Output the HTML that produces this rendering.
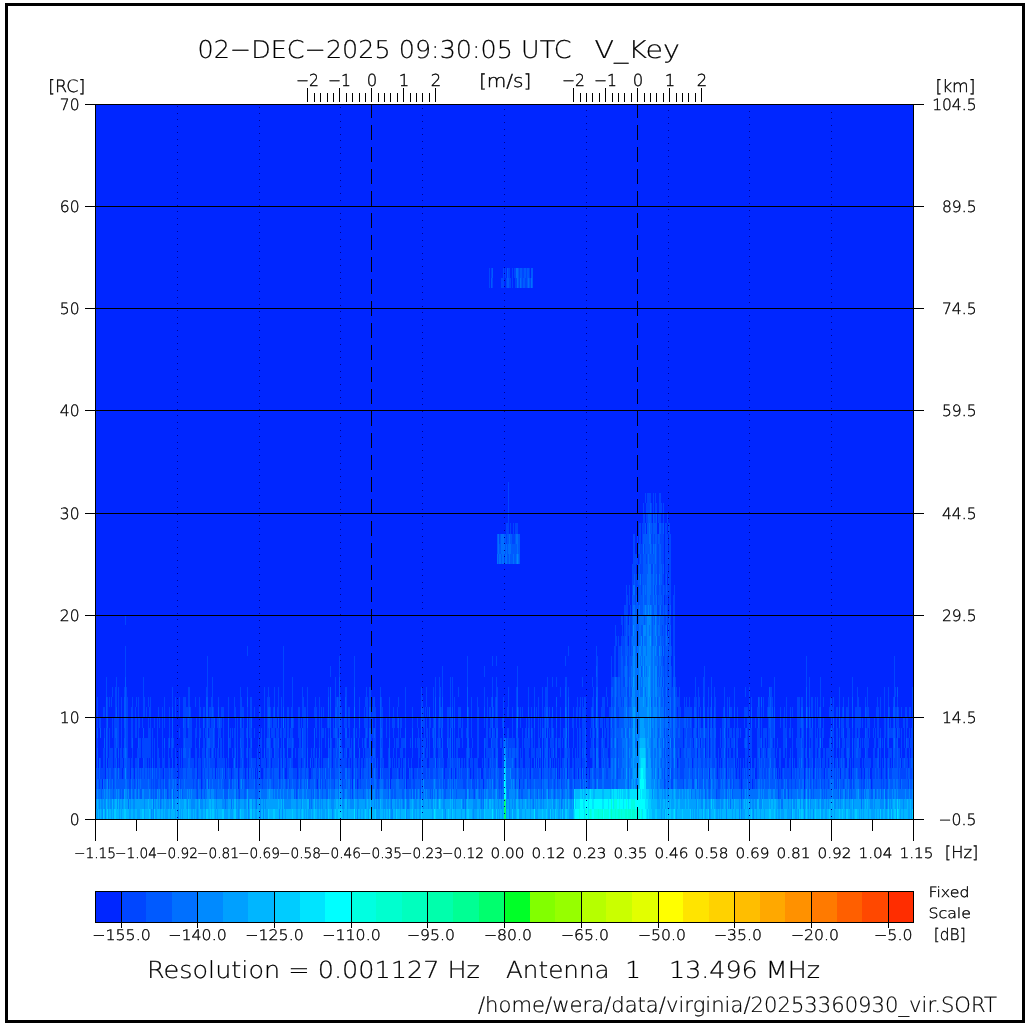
<!DOCTYPE html><html><head><meta charset="utf-8"><title>WERA spectrum</title><style>html,body{margin:0;padding:0;background:#fff;overflow:hidden}svg{display:block;will-change:transform}text{text-rendering:geometricPrecision;shape-rendering:auto}</style></head><body><svg width="1030" height="1025" viewBox="0 0 1030 1025" shape-rendering="crispEdges"><rect x="0" y="0" width="1030" height="1025" fill="#fff"/>
<rect x="6.5" y="4.5" width="1017" height="1017" fill="none" stroke="#000" stroke-width="3"/>
<defs><filter id="jb" x="0" y="0" width="1" height="1" color-interpolation-filters="sRGB"><feGaussianBlur stdDeviation="0.5 0"/></filter></defs>
<g filter="url(#jb)">
<rect x="95" y="104" width="818" height="715" fill="#0026ff"/>
<g transform="translate(0,104.5) scale(1,10.21429)"><path fill="#0046ff" d="M167 67h1v1h-1zM197 67h1v1h-1zM201 67h1v1h-1zM239 67h1v1h-1zM296 67h1v1h-1zM352 67h1v1h-1zM420 67h1v1h-1zM474 67h1v1h-1zM716 67h1v1h-1zM741 67h1v1h-1zM778 67h1v1h-1zM788 67h1v1h-1zM804 67h1v1h-1zM96 66h1v1h-1zM99 66h1v1h-1zM108 66h1v1h-1zM113 66h1v1h-1zM129 66h2v1h-2zM134 66h1v1h-1zM137 66h1v1h-1zM151 66h1v1h-1zM153 66h1v1h-1zM155 66h3v1h-3zM160 66h1v1h-1zM163 66h1v1h-1zM165 66h3v1h-3zM177 66h2v1h-2zM180 66h1v1h-1zM193 66h1v1h-1zM196 66h2v1h-2zM202 66h1v1h-1zM205 66h1v1h-1zM208 66h1v1h-1zM224 66h4v1h-4zM230 66h2v1h-2zM239 66h1v1h-1zM245 66h2v1h-2zM248 66h1v1h-1zM255 66h2v1h-2zM262 66h1v1h-1zM273 66h1v1h-1zM279 66h1v1h-1zM286 66h1v1h-1zM289 66h1v1h-1zM296 66h2v1h-2zM300 66h1v1h-1zM308 66h2v1h-2zM316 66h1v1h-1zM320 66h1v1h-1zM322 66h1v1h-1zM325 66h1v1h-1zM334 66h1v1h-1zM342 66h1v1h-1zM350 66h1v1h-1zM355 66h1v1h-1zM358 66h1v1h-1zM360 66h1v1h-1zM371 66h1v1h-1zM377 66h2v1h-2zM384 66h2v1h-2zM388 66h1v1h-1zM404 66h1v1h-1zM407 66h4v1h-4zM413 66h2v1h-2zM420 66h1v1h-1zM443 66h1v1h-1zM445 66h2v1h-2zM453 66h1v1h-1zM463 66h3v1h-3zM472 66h3v1h-3zM476 66h1v1h-1zM479 66h1v1h-1zM494 66h1v1h-1zM499 66h1v1h-1zM501 66h1v1h-1zM515 66h1v1h-1zM523 66h1v1h-1zM527 66h1v1h-1zM530 66h1v1h-1zM541 66h1v1h-1zM548 66h1v1h-1zM554 66h1v1h-1zM557 66h1v1h-1zM561 66h1v1h-1zM570 66h2v1h-2zM574 66h1v1h-1zM581 66h1v1h-1zM588 66h2v1h-2zM595 66h1v1h-1zM664 66h1v1h-1zM671 66h2v1h-2zM683 66h1v1h-1zM692 66h2v1h-2zM697 66h1v1h-1zM709 66h1v1h-1zM718 66h2v1h-2zM726 66h1v1h-1zM730 66h1v1h-1zM733 66h1v1h-1zM739 66h2v1h-2zM742 66h1v1h-1zM748 66h1v1h-1zM750 66h1v1h-1zM753 66h2v1h-2zM756 66h1v1h-1zM778 66h1v1h-1zM781 66h2v1h-2zM787 66h2v1h-2zM791 66h1v1h-1zM795 66h1v1h-1zM810 66h1v1h-1zM813 66h1v1h-1zM816 66h1v1h-1zM821 66h1v1h-1zM824 66h1v1h-1zM828 66h1v1h-1zM834 66h1v1h-1zM836 66h1v1h-1zM838 66h1v1h-1zM843 66h1v1h-1zM850 66h2v1h-2zM853 66h1v1h-1zM861 66h1v1h-1zM863 66h2v1h-2zM872 66h1v1h-1zM881 66h1v1h-1zM883 66h1v1h-1zM886 66h2v1h-2zM900 66h1v1h-1zM908 66h1v1h-1zM96 65h1v1h-1zM98 65h1v1h-1zM100 65h5v1h-5zM108 65h1v1h-1zM111 65h3v1h-3zM117 65h1v1h-1zM119 65h3v1h-3zM123 65h1v1h-1zM127 65h3v1h-3zM133 65h1v1h-1zM137 65h1v1h-1zM139 65h1v1h-1zM141 65h1v1h-1zM144 65h1v1h-1zM147 65h1v1h-1zM149 65h1v1h-1zM151 65h1v1h-1zM153 65h1v1h-1zM155 65h1v1h-1zM157 65h2v1h-2zM160 65h3v1h-3zM165 65h4v1h-4zM170 65h1v1h-1zM173 65h5v1h-5zM179 65h4v1h-4zM186 65h1v1h-1zM192 65h3v1h-3zM198 65h3v1h-3zM202 65h1v1h-1zM204 65h1v1h-1zM208 65h1v1h-1zM212 65h1v1h-1zM217 65h1v1h-1zM219 65h1v1h-1zM223 65h1v1h-1zM226 65h2v1h-2zM229 65h2v1h-2zM232 65h2v1h-2zM239 65h1v1h-1zM243 65h2v1h-2zM246 65h1v1h-1zM251 65h1v1h-1zM253 65h1v1h-1zM256 65h1v1h-1zM260 65h1v1h-1zM263 65h1v1h-1zM265 65h2v1h-2zM270 65h2v1h-2zM273 65h1v1h-1zM280 65h1v1h-1zM282 65h1v1h-1zM284 65h1v1h-1zM287 65h2v1h-2zM293 65h4v1h-4zM298 65h1v1h-1zM300 65h2v1h-2zM305 65h1v1h-1zM308 65h1v1h-1zM311 65h2v1h-2zM316 65h3v1h-3zM320 65h1v1h-1zM322 65h1v1h-1zM324 65h1v1h-1zM326 65h2v1h-2zM329 65h1v1h-1zM331 65h4v1h-4zM342 65h3v1h-3zM347 65h1v1h-1zM350 65h2v1h-2zM353 65h1v1h-1zM355 65h1v1h-1zM357 65h3v1h-3zM362 65h2v1h-2zM368 65h1v1h-1zM372 65h1v1h-1zM376 65h2v1h-2zM381 65h1v1h-1zM383 65h6v1h-6zM392 65h5v1h-5zM398 65h1v1h-1zM400 65h2v1h-2zM404 65h1v1h-1zM410 65h1v1h-1zM412 65h1v1h-1zM414 65h3v1h-3zM418 65h3v1h-3zM423 65h3v1h-3zM427 65h2v1h-2zM430 65h3v1h-3zM436 65h2v1h-2zM443 65h1v1h-1zM445 65h4v1h-4zM453 65h1v1h-1zM456 65h1v1h-1zM458 65h1v1h-1zM460 65h1v1h-1zM462 65h5v1h-5zM469 65h1v1h-1zM471 65h2v1h-2zM474 65h3v1h-3zM478 65h2v1h-2zM483 65h1v1h-1zM486 65h3v1h-3zM490 65h1v1h-1zM494 65h1v1h-1zM499 65h3v1h-3zM515 65h1v1h-1zM519 65h3v1h-3zM523 65h3v1h-3zM527 65h1v1h-1zM529 65h1v1h-1zM533 65h6v1h-6zM543 65h1v1h-1zM548 65h1v1h-1zM550 65h2v1h-2zM555 65h1v1h-1zM558 65h1v1h-1zM561 65h2v1h-2zM564 65h1v1h-1zM569 65h3v1h-3zM573 65h1v1h-1zM575 65h2v1h-2zM583 65h1v1h-1zM587 65h2v1h-2zM594 65h2v1h-2zM599 65h3v1h-3zM606 65h2v1h-2zM617 65h1v1h-1zM664 65h1v1h-1zM671 65h2v1h-2zM677 65h1v1h-1zM680 65h4v1h-4zM692 65h1v1h-1zM697 65h1v1h-1zM702 65h1v1h-1zM716 65h1v1h-1zM718 65h2v1h-2zM721 65h1v1h-1zM728 65h1v1h-1zM730 65h1v1h-1zM733 65h1v1h-1zM735 65h1v1h-1zM737 65h2v1h-2zM740 65h1v1h-1zM742 65h2v1h-2zM745 65h1v1h-1zM747 65h2v1h-2zM750 65h1v1h-1zM752 65h2v1h-2zM757 65h2v1h-2zM762 65h1v1h-1zM764 65h2v1h-2zM767 65h1v1h-1zM772 65h1v1h-1zM775 65h1v1h-1zM778 65h1v1h-1zM780 65h1v1h-1zM782 65h1v1h-1zM784 65h7v1h-7zM793 65h2v1h-2zM796 65h1v1h-1zM799 65h1v1h-1zM805 65h1v1h-1zM808 65h1v1h-1zM810 65h1v1h-1zM814 65h1v1h-1zM816 65h1v1h-1zM818 65h1v1h-1zM821 65h3v1h-3zM826 65h2v1h-2zM831 65h1v1h-1zM834 65h1v1h-1zM836 65h1v1h-1zM838 65h1v1h-1zM844 65h2v1h-2zM848 65h1v1h-1zM850 65h1v1h-1zM853 65h1v1h-1zM858 65h3v1h-3zM862 65h2v1h-2zM868 65h1v1h-1zM872 65h3v1h-3zM876 65h2v1h-2zM879 65h2v1h-2zM882 65h2v1h-2zM885 65h1v1h-1zM887 65h1v1h-1zM889 65h3v1h-3zM898 65h1v1h-1zM900 65h6v1h-6zM907 65h1v1h-1zM910 65h2v1h-2zM100 64h1v1h-1zM103 64h2v1h-2zM108 64h5v1h-5zM114 64h2v1h-2zM118 64h1v1h-1zM120 64h3v1h-3zM127 64h3v1h-3zM131 64h2v1h-2zM135 64h3v1h-3zM144 64h3v1h-3zM148 64h1v1h-1zM150 64h1v1h-1zM154 64h1v1h-1zM157 64h3v1h-3zM162 64h3v1h-3zM168 64h2v1h-2zM175 64h2v1h-2zM179 64h1v1h-1zM181 64h1v1h-1zM183 64h5v1h-5zM190 64h4v1h-4zM195 64h2v1h-2zM198 64h3v1h-3zM202 64h2v1h-2zM205 64h2v1h-2zM208 64h1v1h-1zM210 64h5v1h-5zM217 64h8v1h-8zM226 64h1v1h-1zM228 64h1v1h-1zM233 64h1v1h-1zM235 64h1v1h-1zM237 64h1v1h-1zM240 64h2v1h-2zM243 64h1v1h-1zM247 64h1v1h-1zM249 64h2v1h-2zM252 64h4v1h-4zM257 64h3v1h-3zM261 64h5v1h-5zM267 64h2v1h-2zM270 64h1v1h-1zM272 64h6v1h-6zM280 64h1v1h-1zM284 64h2v1h-2zM287 64h3v1h-3zM291 64h2v1h-2zM298 64h3v1h-3zM302 64h2v1h-2zM305 64h1v1h-1zM312 64h1v1h-1zM314 64h2v1h-2zM318 64h2v1h-2zM321 64h1v1h-1zM323 64h5v1h-5zM329 64h1v1h-1zM331 64h1v1h-1zM333 64h2v1h-2zM336 64h2v1h-2zM340 64h7v1h-7zM348 64h2v1h-2zM351 64h1v1h-1zM353 64h1v1h-1zM355 64h2v1h-2zM358 64h2v1h-2zM361 64h2v1h-2zM364 64h2v1h-2zM368 64h1v1h-1zM373 64h2v1h-2zM377 64h1v1h-1zM381 64h3v1h-3zM388 64h1v1h-1zM390 64h1v1h-1zM392 64h1v1h-1zM394 64h1v1h-1zM396 64h1v1h-1zM398 64h2v1h-2zM401 64h1v1h-1zM403 64h2v1h-2zM408 64h1v1h-1zM411 64h1v1h-1zM418 64h1v1h-1zM422 64h5v1h-5zM429 64h6v1h-6zM437 64h2v1h-2zM440 64h4v1h-4zM447 64h3v1h-3zM451 64h1v1h-1zM453 64h4v1h-4zM458 64h1v1h-1zM461 64h2v1h-2zM464 64h1v1h-1zM466 64h1v1h-1zM468 64h1v1h-1zM470 64h3v1h-3zM474 64h4v1h-4zM482 64h1v1h-1zM485 64h3v1h-3zM489 64h1v1h-1zM491 64h1v1h-1zM493 64h3v1h-3zM502 64h2v1h-2zM514 64h1v1h-1zM516 64h1v1h-1zM518 64h1v1h-1zM520 64h3v1h-3zM525 64h5v1h-5zM531 64h1v1h-1zM540 64h1v1h-1zM545 64h1v1h-1zM549 64h1v1h-1zM552 64h1v1h-1zM554 64h1v1h-1zM556 64h1v1h-1zM558 64h1v1h-1zM560 64h1v1h-1zM562 64h2v1h-2zM569 64h1v1h-1zM572 64h2v1h-2zM575 64h6v1h-6zM582 64h3v1h-3zM586 64h1v1h-1zM592 64h1v1h-1zM594 64h1v1h-1zM601 64h1v1h-1zM603 64h1v1h-1zM605 64h2v1h-2zM608 64h1v1h-1zM610 64h1v1h-1zM617 64h1v1h-1zM672 64h1v1h-1zM678 64h1v1h-1zM680 64h5v1h-5zM688 64h1v1h-1zM693 64h1v1h-1zM697 64h1v1h-1zM701 64h2v1h-2zM705 64h2v1h-2zM709 64h1v1h-1zM712 64h3v1h-3zM716 64h1v1h-1zM718 64h1v1h-1zM720 64h1v1h-1zM722 64h1v1h-1zM725 64h1v1h-1zM728 64h6v1h-6zM736 64h1v1h-1zM738 64h1v1h-1zM740 64h1v1h-1zM743 64h1v1h-1zM745 64h2v1h-2zM748 64h2v1h-2zM754 64h2v1h-2zM757 64h2v1h-2zM760 64h1v1h-1zM762 64h2v1h-2zM765 64h4v1h-4zM771 64h3v1h-3zM775 64h1v1h-1zM779 64h2v1h-2zM785 64h2v1h-2zM789 64h2v1h-2zM794 64h1v1h-1zM797 64h2v1h-2zM800 64h1v1h-1zM803 64h1v1h-1zM807 64h1v1h-1zM809 64h3v1h-3zM816 64h4v1h-4zM822 64h3v1h-3zM826 64h2v1h-2zM829 64h1v1h-1zM831 64h2v1h-2zM835 64h2v1h-2zM839 64h2v1h-2zM842 64h1v1h-1zM844 64h1v1h-1zM850 64h1v1h-1zM852 64h1v1h-1zM854 64h6v1h-6zM862 64h1v1h-1zM864 64h7v1h-7zM873 64h4v1h-4zM880 64h1v1h-1zM882 64h1v1h-1zM885 64h1v1h-1zM887 64h1v1h-1zM889 64h1v1h-1zM891 64h1v1h-1zM894 64h3v1h-3zM898 64h2v1h-2zM902 64h2v1h-2zM905 64h3v1h-3zM909 64h2v1h-2zM103 63h2v1h-2zM107 63h1v1h-1zM109 63h4v1h-4zM114 63h1v1h-1zM116 63h1v1h-1zM120 63h2v1h-2zM123 63h1v1h-1zM127 63h1v1h-1zM132 63h1v1h-1zM137 63h4v1h-4zM142 63h9v1h-9zM152 63h1v1h-1zM154 63h1v1h-1zM157 63h2v1h-2zM162 63h1v1h-1zM164 63h1v1h-1zM168 63h1v1h-1zM171 63h2v1h-2zM175 63h1v1h-1zM179 63h1v1h-1zM181 63h1v1h-1zM186 63h3v1h-3zM190 63h1v1h-1zM195 63h2v1h-2zM199 63h1v1h-1zM202 63h3v1h-3zM208 63h2v1h-2zM211 63h1v1h-1zM213 63h1v1h-1zM215 63h1v1h-1zM217 63h2v1h-2zM220 63h2v1h-2zM223 63h1v1h-1zM232 63h1v1h-1zM234 63h1v1h-1zM237 63h1v1h-1zM240 63h1v1h-1zM242 63h2v1h-2zM246 63h1v1h-1zM249 63h3v1h-3zM257 63h1v1h-1zM259 63h1v1h-1zM261 63h1v1h-1zM266 63h3v1h-3zM270 63h2v1h-2zM275 63h4v1h-4zM280 63h2v1h-2zM284 63h1v1h-1zM291 63h1v1h-1zM295 63h1v1h-1zM298 63h4v1h-4zM303 63h3v1h-3zM311 63h1v1h-1zM313 63h2v1h-2zM316 63h1v1h-1zM321 63h1v1h-1zM329 63h1v1h-1zM331 63h1v1h-1zM333 63h3v1h-3zM337 63h2v1h-2zM342 63h1v1h-1zM344 63h2v1h-2zM349 63h3v1h-3zM353 63h1v1h-1zM363 63h1v1h-1zM365 63h5v1h-5zM372 63h1v1h-1zM375 63h1v1h-1zM382 63h1v1h-1zM388 63h1v1h-1zM393 63h1v1h-1zM396 63h1v1h-1zM400 63h3v1h-3zM405 63h1v1h-1zM412 63h1v1h-1zM418 63h2v1h-2zM421 63h2v1h-2zM424 63h1v1h-1zM426 63h2v1h-2zM429 63h1v1h-1zM433 63h1v1h-1zM435 63h1v1h-1zM438 63h4v1h-4zM449 63h1v1h-1zM454 63h1v1h-1zM456 63h2v1h-2zM466 63h1v1h-1zM469 63h1v1h-1zM471 63h1v1h-1zM477 63h2v1h-2zM486 63h6v1h-6zM493 63h1v1h-1zM495 63h1v1h-1zM502 63h2v1h-2zM508 63h1v1h-1zM511 63h1v1h-1zM515 63h1v1h-1zM518 63h1v1h-1zM520 63h1v1h-1zM522 63h1v1h-1zM525 63h4v1h-4zM531 63h4v1h-4zM536 63h4v1h-4zM544 63h1v1h-1zM549 63h1v1h-1zM551 63h2v1h-2zM555 63h1v1h-1zM560 63h1v1h-1zM564 63h1v1h-1zM567 63h3v1h-3zM572 63h1v1h-1zM575 63h1v1h-1zM577 63h1v1h-1zM579 63h2v1h-2zM583 63h1v1h-1zM590 63h3v1h-3zM594 63h1v1h-1zM598 63h1v1h-1zM601 63h2v1h-2zM604 63h4v1h-4zM610 63h1v1h-1zM617 63h1v1h-1zM664 63h1v1h-1zM672 63h1v1h-1zM676 63h2v1h-2zM679 63h1v1h-1zM681 63h3v1h-3zM686 63h1v1h-1zM691 63h4v1h-4zM700 63h3v1h-3zM706 63h2v1h-2zM710 63h1v1h-1zM712 63h2v1h-2zM715 63h1v1h-1zM718 63h1v1h-1zM721 63h3v1h-3zM725 63h1v1h-1zM727 63h1v1h-1zM729 63h2v1h-2zM733 63h2v1h-2zM736 63h1v1h-1zM745 63h3v1h-3zM749 63h3v1h-3zM757 63h1v1h-1zM761 63h2v1h-2zM764 63h2v1h-2zM767 63h1v1h-1zM771 63h4v1h-4zM776 63h1v1h-1zM779 63h2v1h-2zM783 63h2v1h-2zM786 63h1v1h-1zM790 63h1v1h-1zM792 63h1v1h-1zM797 63h4v1h-4zM803 63h1v1h-1zM805 63h1v1h-1zM810 63h3v1h-3zM815 63h2v1h-2zM818 63h1v1h-1zM820 63h1v1h-1zM823 63h2v1h-2zM826 63h8v1h-8zM836 63h1v1h-1zM839 63h1v1h-1zM841 63h3v1h-3zM846 63h1v1h-1zM849 63h1v1h-1zM854 63h2v1h-2zM858 63h3v1h-3zM866 63h2v1h-2zM873 63h2v1h-2zM877 63h1v1h-1zM880 63h1v1h-1zM888 63h4v1h-4zM895 63h2v1h-2zM898 63h2v1h-2zM901 63h1v1h-1zM905 63h2v1h-2zM909 63h1v1h-1zM911 63h2v1h-2zM97 62h1v1h-1zM107 62h1v1h-1zM109 62h1v1h-1zM114 62h2v1h-2zM117 62h2v1h-2zM121 62h1v1h-1zM126 62h2v1h-2zM131 62h1v1h-1zM139 62h2v1h-2zM142 62h9v1h-9zM152 62h1v1h-1zM154 62h1v1h-1zM157 62h1v1h-1zM162 62h1v1h-1zM168 62h1v1h-1zM171 62h1v1h-1zM173 62h1v1h-1zM183 62h1v1h-1zM185 62h7v1h-7zM195 62h1v1h-1zM203 62h2v1h-2zM206 62h1v1h-1zM210 62h3v1h-3zM214 62h1v1h-1zM220 62h2v1h-2zM223 62h1v1h-1zM229 62h2v1h-2zM234 62h2v1h-2zM237 62h1v1h-1zM241 62h3v1h-3zM250 62h1v1h-1zM258 62h1v1h-1zM260 62h2v1h-2zM264 62h1v1h-1zM266 62h1v1h-1zM270 62h1v1h-1zM273 62h1v1h-1zM275 62h3v1h-3zM281 62h1v1h-1zM288 62h4v1h-4zM293 62h1v1h-1zM299 62h2v1h-2zM303 62h3v1h-3zM307 62h1v1h-1zM319 62h1v1h-1zM321 62h1v1h-1zM325 62h1v1h-1zM331 62h1v1h-1zM335 62h2v1h-2zM338 62h1v1h-1zM341 62h1v1h-1zM345 62h5v1h-5zM351 62h1v1h-1zM353 62h1v1h-1zM358 62h1v1h-1zM362 62h1v1h-1zM364 62h1v1h-1zM366 62h1v1h-1zM373 62h3v1h-3zM381 62h2v1h-2zM394 62h1v1h-1zM396 62h3v1h-3zM401 62h4v1h-4zM410 62h1v1h-1zM415 62h1v1h-1zM417 62h3v1h-3zM421 62h5v1h-5zM427 62h1v1h-1zM429 62h1v1h-1zM434 62h1v1h-1zM437 62h2v1h-2zM440 62h1v1h-1zM448 62h2v1h-2zM454 62h1v1h-1zM456 62h4v1h-4zM462 62h1v1h-1zM472 62h1v1h-1zM477 62h2v1h-2zM485 62h3v1h-3zM492 62h4v1h-4zM497 62h1v1h-1zM500 62h2v1h-2zM506 62h1v1h-1zM508 62h7v1h-7zM516 62h1v1h-1zM518 62h1v1h-1zM522 62h1v1h-1zM524 62h6v1h-6zM531 62h2v1h-2zM534 62h1v1h-1zM538 62h2v1h-2zM544 62h2v1h-2zM550 62h4v1h-4zM555 62h1v1h-1zM558 62h3v1h-3zM562 62h1v1h-1zM564 62h1v1h-1zM573 62h1v1h-1zM577 62h1v1h-1zM579 62h2v1h-2zM582 62h3v1h-3zM591 62h2v1h-2zM598 62h1v1h-1zM601 62h1v1h-1zM603 62h2v1h-2zM607 62h2v1h-2zM610 62h1v1h-1zM613 62h1v1h-1zM617 62h1v1h-1zM671 62h2v1h-2zM675 62h8v1h-8zM684 62h1v1h-1zM687 62h3v1h-3zM691 62h2v1h-2zM697 62h2v1h-2zM702 62h2v1h-2zM706 62h2v1h-2zM710 62h1v1h-1zM712 62h2v1h-2zM715 62h1v1h-1zM720 62h1v1h-1zM722 62h2v1h-2zM727 62h3v1h-3zM731 62h3v1h-3zM736 62h2v1h-2zM744 62h1v1h-1zM747 62h1v1h-1zM749 62h3v1h-3zM757 62h4v1h-4zM763 62h2v1h-2zM766 62h1v1h-1zM768 62h2v1h-2zM772 62h1v1h-1zM774 62h1v1h-1zM777 62h1v1h-1zM783 62h3v1h-3zM792 62h1v1h-1zM796 62h5v1h-5zM802 62h2v1h-2zM809 62h1v1h-1zM811 62h2v1h-2zM815 62h3v1h-3zM819 62h1v1h-1zM822 62h1v1h-1zM829 62h1v1h-1zM831 62h1v1h-1zM836 62h2v1h-2zM842 62h3v1h-3zM846 62h4v1h-4zM854 62h3v1h-3zM860 62h1v1h-1zM862 62h1v1h-1zM864 62h5v1h-5zM874 62h2v1h-2zM878 62h2v1h-2zM882 62h1v1h-1zM887 62h1v1h-1zM895 62h2v1h-2zM901 62h1v1h-1zM904 62h1v1h-1zM907 62h2v1h-2zM910 62h3v1h-3zM104 61h1v1h-1zM107 61h1v1h-1zM109 61h1v1h-1zM112 61h1v1h-1zM114 61h1v1h-1zM117 61h2v1h-2zM121 61h1v1h-1zM124 61h1v1h-1zM126 61h2v1h-2zM131 61h2v1h-2zM135 61h2v1h-2zM138 61h1v1h-1zM148 61h3v1h-3zM152 61h1v1h-1zM157 61h1v1h-1zM162 61h1v1h-1zM169 61h1v1h-1zM179 61h1v1h-1zM183 61h3v1h-3zM188 61h4v1h-4zM195 61h2v1h-2zM199 61h2v1h-2zM203 61h1v1h-1zM205 61h2v1h-2zM209 61h4v1h-4zM214 61h1v1h-1zM218 61h3v1h-3zM223 61h1v1h-1zM230 61h1v1h-1zM232 61h1v1h-1zM234 61h2v1h-2zM237 61h1v1h-1zM240 61h4v1h-4zM246 61h1v1h-1zM249 61h3v1h-3zM254 61h1v1h-1zM259 61h1v1h-1zM261 61h1v1h-1zM264 61h1v1h-1zM267 61h2v1h-2zM271 61h4v1h-4zM276 61h3v1h-3zM280 61h2v1h-2zM283 61h3v1h-3zM287 61h2v1h-2zM290 61h3v1h-3zM298 61h3v1h-3zM303 61h3v1h-3zM307 61h1v1h-1zM316 61h1v1h-1zM319 61h1v1h-1zM321 61h3v1h-3zM325 61h1v1h-1zM328 61h1v1h-1zM333 61h2v1h-2zM337 61h1v1h-1zM340 61h2v1h-2zM349 61h1v1h-1zM353 61h1v1h-1zM356 61h1v1h-1zM359 61h1v1h-1zM365 61h1v1h-1zM367 61h1v1h-1zM372 61h2v1h-2zM375 61h1v1h-1zM382 61h1v1h-1zM386 61h1v1h-1zM389 61h1v1h-1zM393 61h1v1h-1zM398 61h1v1h-1zM400 61h1v1h-1zM418 61h1v1h-1zM424 61h1v1h-1zM426 61h2v1h-2zM429 61h1v1h-1zM432 61h1v1h-1zM434 61h1v1h-1zM438 61h2v1h-2zM442 61h1v1h-1zM447 61h2v1h-2zM454 61h1v1h-1zM458 61h1v1h-1zM461 61h2v1h-2zM466 61h1v1h-1zM468 61h1v1h-1zM471 61h1v1h-1zM477 61h2v1h-2zM486 61h2v1h-2zM489 61h2v1h-2zM493 61h2v1h-2zM507 61h2v1h-2zM512 61h1v1h-1zM522 61h1v1h-1zM525 61h2v1h-2zM529 61h1v1h-1zM532 61h1v1h-1zM534 61h1v1h-1zM538 61h1v1h-1zM540 61h1v1h-1zM543 61h2v1h-2zM549 61h1v1h-1zM551 61h1v1h-1zM553 61h1v1h-1zM556 61h1v1h-1zM560 61h1v1h-1zM563 61h2v1h-2zM573 61h1v1h-1zM577 61h1v1h-1zM579 61h2v1h-2zM582 61h3v1h-3zM590 61h1v1h-1zM592 61h1v1h-1zM594 61h1v1h-1zM598 61h1v1h-1zM604 61h2v1h-2zM607 61h2v1h-2zM610 61h1v1h-1zM613 61h1v1h-1zM664 61h1v1h-1zM672 61h1v1h-1zM676 61h2v1h-2zM680 61h3v1h-3zM684 61h2v1h-2zM687 61h5v1h-5zM693 61h1v1h-1zM696 61h1v1h-1zM699 61h1v1h-1zM701 61h2v1h-2zM705 61h3v1h-3zM712 61h2v1h-2zM720 61h1v1h-1zM722 61h2v1h-2zM725 61h1v1h-1zM727 61h1v1h-1zM729 61h3v1h-3zM733 61h2v1h-2zM736 61h3v1h-3zM740 61h1v1h-1zM745 61h1v1h-1zM747 61h1v1h-1zM750 61h2v1h-2zM757 61h3v1h-3zM761 61h1v1h-1zM763 61h4v1h-4zM768 61h2v1h-2zM771 61h3v1h-3zM783 61h4v1h-4zM789 61h2v1h-2zM792 61h1v1h-1zM797 61h3v1h-3zM801 61h1v1h-1zM803 61h1v1h-1zM809 61h4v1h-4zM815 61h1v1h-1zM817 61h1v1h-1zM819 61h2v1h-2zM822 61h2v1h-2zM830 61h1v1h-1zM832 61h2v1h-2zM836 61h2v1h-2zM839 61h1v1h-1zM841 61h2v1h-2zM847 61h3v1h-3zM852 61h1v1h-1zM855 61h2v1h-2zM858 61h2v1h-2zM866 61h2v1h-2zM869 61h1v1h-1zM873 61h1v1h-1zM875 61h1v1h-1zM877 61h2v1h-2zM880 61h1v1h-1zM884 61h2v1h-2zM887 61h1v1h-1zM889 61h4v1h-4zM895 61h1v1h-1zM898 61h2v1h-2zM901 61h1v1h-1zM904 61h1v1h-1zM906 61h1v1h-1zM909 61h1v1h-1zM911 61h2v1h-2zM97 60h1v1h-1zM99 60h2v1h-2zM106 60h1v1h-1zM112 60h1v1h-1zM114 60h5v1h-5zM121 60h1v1h-1zM126 60h2v1h-2zM131 60h2v1h-2zM135 60h2v1h-2zM138 60h2v1h-2zM142 60h1v1h-1zM148 60h1v1h-1zM150 60h1v1h-1zM154 60h1v1h-1zM157 60h1v1h-1zM159 60h1v1h-1zM162 60h1v1h-1zM164 60h1v1h-1zM169 60h1v1h-1zM184 60h2v1h-2zM187 60h1v1h-1zM189 60h3v1h-3zM196 60h1v1h-1zM199 60h1v1h-1zM204 60h1v1h-1zM206 60h1v1h-1zM208 60h2v1h-2zM211 60h3v1h-3zM217 60h2v1h-2zM220 60h2v1h-2zM223 60h1v1h-1zM235 60h1v1h-1zM237 60h1v1h-1zM241 60h1v1h-1zM243 60h1v1h-1zM249 60h2v1h-2zM264 60h1v1h-1zM267 60h1v1h-1zM270 60h2v1h-2zM273 60h4v1h-4zM281 60h1v1h-1zM285 60h1v1h-1zM287 60h2v1h-2zM293 60h1v1h-1zM298 60h2v1h-2zM301 60h1v1h-1zM303 60h3v1h-3zM315 60h2v1h-2zM319 60h1v1h-1zM321 60h1v1h-1zM327 60h1v1h-1zM329 60h1v1h-1zM333 60h1v1h-1zM336 60h3v1h-3zM340 60h2v1h-2zM344 60h3v1h-3zM348 60h2v1h-2zM364 60h4v1h-4zM369 60h2v1h-2zM372 60h1v1h-1zM375 60h1v1h-1zM381 60h2v1h-2zM386 60h1v1h-1zM389 60h1v1h-1zM392 60h3v1h-3zM397 60h1v1h-1zM400 60h2v1h-2zM405 60h1v1h-1zM412 60h1v1h-1zM417 60h1v1h-1zM422 60h3v1h-3zM426 60h1v1h-1zM429 60h2v1h-2zM433 60h1v1h-1zM438 60h1v1h-1zM440 60h2v1h-2zM447 60h2v1h-2zM450 60h2v1h-2zM458 60h3v1h-3zM462 60h1v1h-1zM468 60h1v1h-1zM471 60h1v1h-1zM477 60h2v1h-2zM484 60h1v1h-1zM486 60h2v1h-2zM490 60h2v1h-2zM495 60h3v1h-3zM502 60h1v1h-1zM512 60h1v1h-1zM520 60h1v1h-1zM526 60h1v1h-1zM528 60h2v1h-2zM531 60h1v1h-1zM538 60h1v1h-1zM540 60h1v1h-1zM542 60h1v1h-1zM544 60h1v1h-1zM546 60h1v1h-1zM548 60h1v1h-1zM551 60h2v1h-2zM560 60h1v1h-1zM572 60h2v1h-2zM576 60h1v1h-1zM579 60h1v1h-1zM582 60h4v1h-4zM591 60h2v1h-2zM595 60h1v1h-1zM598 60h1v1h-1zM600 60h3v1h-3zM604 60h1v1h-1zM606 60h3v1h-3zM610 60h1v1h-1zM612 60h2v1h-2zM617 60h2v1h-2zM672 60h1v1h-1zM677 60h2v1h-2zM680 60h4v1h-4zM686 60h1v1h-1zM688 60h2v1h-2zM691 60h1v1h-1zM694 60h1v1h-1zM699 60h2v1h-2zM707 60h1v1h-1zM710 60h1v1h-1zM713 60h1v1h-1zM715 60h1v1h-1zM722 60h2v1h-2zM727 60h3v1h-3zM734 60h1v1h-1zM737 60h1v1h-1zM744 60h1v1h-1zM747 60h3v1h-3zM755 60h1v1h-1zM759 60h1v1h-1zM761 60h1v1h-1zM768 60h1v1h-1zM771 60h3v1h-3zM780 60h1v1h-1zM783 60h2v1h-2zM786 60h1v1h-1zM790 60h1v1h-1zM797 60h4v1h-4zM803 60h1v1h-1zM807 60h1v1h-1zM810 60h1v1h-1zM815 60h1v1h-1zM818 60h2v1h-2zM823 60h1v1h-1zM831 60h1v1h-1zM836 60h1v1h-1zM841 60h3v1h-3zM846 60h3v1h-3zM855 60h6v1h-6zM862 60h1v1h-1zM865 60h1v1h-1zM867 60h3v1h-3zM874 60h1v1h-1zM877 60h2v1h-2zM884 60h2v1h-2zM887 60h1v1h-1zM890 60h1v1h-1zM893 60h1v1h-1zM896 60h3v1h-3zM903 60h2v1h-2zM906 60h2v1h-2zM912 60h1v1h-1zM97 59h1v1h-1zM103 59h2v1h-2zM107 59h1v1h-1zM115 59h1v1h-1zM118 59h1v1h-1zM121 59h1v1h-1zM126 59h2v1h-2zM131 59h2v1h-2zM135 59h1v1h-1zM138 59h1v1h-1zM143 59h2v1h-2zM146 59h1v1h-1zM149 59h2v1h-2zM158 59h1v1h-1zM162 59h1v1h-1zM164 59h1v1h-1zM169 59h1v1h-1zM175 59h1v1h-1zM179 59h1v1h-1zM183 59h6v1h-6zM190 59h1v1h-1zM199 59h2v1h-2zM203 59h2v1h-2zM209 59h3v1h-3zM213 59h1v1h-1zM221 59h3v1h-3zM228 59h1v1h-1zM234 59h2v1h-2zM240 59h4v1h-4zM247 59h1v1h-1zM250 59h2v1h-2zM254 59h1v1h-1zM259 59h2v1h-2zM264 59h1v1h-1zM267 59h1v1h-1zM270 59h1v1h-1zM273 59h1v1h-1zM277 59h2v1h-2zM281 59h1v1h-1zM287 59h2v1h-2zM291 59h2v1h-2zM298 59h2v1h-2zM302 59h4v1h-4zM307 59h1v1h-1zM314 59h3v1h-3zM319 59h1v1h-1zM321 59h1v1h-1zM323 59h1v1h-1zM337 59h2v1h-2zM340 59h2v1h-2zM346 59h1v1h-1zM348 59h2v1h-2zM359 59h1v1h-1zM364 59h1v1h-1zM366 59h2v1h-2zM372 59h4v1h-4zM381 59h2v1h-2zM389 59h1v1h-1zM393 59h1v1h-1zM397 59h1v1h-1zM405 59h1v1h-1zM412 59h1v1h-1zM422 59h2v1h-2zM425 59h1v1h-1zM427 59h1v1h-1zM433 59h1v1h-1zM441 59h1v1h-1zM447 59h3v1h-3zM454 59h1v1h-1zM458 59h3v1h-3zM468 59h1v1h-1zM471 59h1v1h-1zM477 59h2v1h-2zM487 59h1v1h-1zM489 59h2v1h-2zM493 59h1v1h-1zM495 59h1v1h-1zM497 59h1v1h-1zM503 59h1v1h-1zM507 59h2v1h-2zM512 59h1v1h-1zM516 59h1v1h-1zM518 59h1v1h-1zM520 59h1v1h-1zM522 59h1v1h-1zM531 59h1v1h-1zM536 59h1v1h-1zM538 59h1v1h-1zM542 59h1v1h-1zM544 59h2v1h-2zM549 59h1v1h-1zM556 59h1v1h-1zM560 59h1v1h-1zM573 59h1v1h-1zM576 59h2v1h-2zM579 59h2v1h-2zM582 59h4v1h-4zM591 59h1v1h-1zM593 59h1v1h-1zM601 59h4v1h-4zM609 59h2v1h-2zM613 59h1v1h-1zM616 59h3v1h-3zM664 59h1v1h-1zM671 59h2v1h-2zM676 59h1v1h-1zM678 59h3v1h-3zM684 59h8v1h-8zM696 59h1v1h-1zM698 59h1v1h-1zM700 59h1v1h-1zM707 59h2v1h-2zM710 59h1v1h-1zM715 59h1v1h-1zM723 59h1v1h-1zM727 59h1v1h-1zM730 59h2v1h-2zM737 59h1v1h-1zM744 59h4v1h-4zM749 59h1v1h-1zM757 59h3v1h-3zM761 59h1v1h-1zM763 59h1v1h-1zM767 59h1v1h-1zM771 59h1v1h-1zM780 59h1v1h-1zM784 59h1v1h-1zM786 59h1v1h-1zM790 59h1v1h-1zM792 59h1v1h-1zM797 59h3v1h-3zM807 59h1v1h-1zM811 59h2v1h-2zM815 59h1v1h-1zM817 59h1v1h-1zM819 59h1v1h-1zM829 59h5v1h-5zM836 59h2v1h-2zM842 59h1v1h-1zM846 59h3v1h-3zM855 59h6v1h-6zM866 59h3v1h-3zM876 59h3v1h-3zM880 59h1v1h-1zM884 59h1v1h-1zM889 59h1v1h-1zM895 59h2v1h-2zM898 59h1v1h-1zM901 59h1v1h-1zM905 59h2v1h-2zM909 59h2v1h-2zM912 59h1v1h-1zM97 58h1v1h-1zM107 58h1v1h-1zM109 58h1v1h-1zM111 58h1v1h-1zM115 58h2v1h-2zM118 58h1v1h-1zM121 58h1v1h-1zM126 58h2v1h-2zM132 58h1v1h-1zM136 58h1v1h-1zM138 58h1v1h-1zM143 58h2v1h-2zM148 58h1v1h-1zM150 58h1v1h-1zM164 58h1v1h-1zM172 58h1v1h-1zM175 58h1v1h-1zM179 58h1v1h-1zM183 58h3v1h-3zM188 58h2v1h-2zM195 58h1v1h-1zM199 58h1v1h-1zM211 58h2v1h-2zM218 58h1v1h-1zM228 58h1v1h-1zM234 58h1v1h-1zM240 58h2v1h-2zM250 58h2v1h-2zM264 58h1v1h-1zM267 58h3v1h-3zM274 58h1v1h-1zM278 58h1v1h-1zM281 58h1v1h-1zM283 58h1v1h-1zM292 58h1v1h-1zM302 58h2v1h-2zM307 58h1v1h-1zM315 58h1v1h-1zM319 58h1v1h-1zM335 58h2v1h-2zM338 58h1v1h-1zM340 58h1v1h-1zM346 58h1v1h-1zM359 58h1v1h-1zM365 58h3v1h-3zM369 58h2v1h-2zM373 58h2v1h-2zM381 58h1v1h-1zM389 58h1v1h-1zM398 58h1v1h-1zM405 58h1v1h-1zM421 58h2v1h-2zM426 58h1v1h-1zM433 58h1v1h-1zM440 58h1v1h-1zM450 58h1v1h-1zM452 58h1v1h-1zM454 58h1v1h-1zM471 58h1v1h-1zM477 58h1v1h-1zM484 58h1v1h-1zM487 58h1v1h-1zM491 58h1v1h-1zM495 58h1v1h-1zM497 58h1v1h-1zM503 58h1v1h-1zM508 58h1v1h-1zM516 58h1v1h-1zM528 58h1v1h-1zM534 58h1v1h-1zM538 58h1v1h-1zM542 58h1v1h-1zM545 58h3v1h-3zM566 58h1v1h-1zM577 58h1v1h-1zM580 58h1v1h-1zM582 58h1v1h-1zM584 58h2v1h-2zM592 58h2v1h-2zM602 58h3v1h-3zM607 58h1v1h-1zM612 58h2v1h-2zM616 58h2v1h-2zM621 58h1v1h-1zM623 58h1v1h-1zM628 58h1v1h-1zM664 58h1v1h-1zM671 58h2v1h-2zM676 58h4v1h-4zM684 58h1v1h-1zM686 58h1v1h-1zM689 58h1v1h-1zM694 58h3v1h-3zM698 58h2v1h-2zM704 58h1v1h-1zM708 58h1v1h-1zM714 58h2v1h-2zM724 58h1v1h-1zM727 58h1v1h-1zM729 58h1v1h-1zM734 58h1v1h-1zM749 58h1v1h-1zM751 58h1v1h-1zM759 58h1v1h-1zM763 58h1v1h-1zM768 58h2v1h-2zM771 58h2v1h-2zM774 58h1v1h-1zM786 58h1v1h-1zM797 58h3v1h-3zM801 58h2v1h-2zM809 58h1v1h-1zM811 58h2v1h-2zM815 58h1v1h-1zM817 58h1v1h-1zM820 58h1v1h-1zM823 58h1v1h-1zM830 58h2v1h-2zM833 58h1v1h-1zM839 58h1v1h-1zM843 58h1v1h-1zM848 58h1v1h-1zM857 58h2v1h-2zM865 58h1v1h-1zM867 58h1v1h-1zM877 58h1v1h-1zM880 58h1v1h-1zM884 58h1v1h-1zM888 58h1v1h-1zM893 58h1v1h-1zM897 58h1v1h-1zM912 58h1v1h-1zM106 57h1v1h-1zM112 57h1v1h-1zM115 57h2v1h-2zM118 57h1v1h-1zM124 57h1v1h-1zM126 57h1v1h-1zM143 57h1v1h-1zM172 57h1v1h-1zM188 57h2v1h-2zM206 57h2v1h-2zM212 57h1v1h-1zM240 57h1v1h-1zM247 57h1v1h-1zM264 57h1v1h-1zM268 57h1v1h-1zM274 57h1v1h-1zM278 57h1v1h-1zM283 57h1v1h-1zM292 57h1v1h-1zM302 57h1v1h-1zM307 57h1v1h-1zM328 57h1v1h-1zM335 57h1v1h-1zM345 57h2v1h-2zM366 57h1v1h-1zM369 57h2v1h-2zM380 57h1v1h-1zM405 57h1v1h-1zM421 57h1v1h-1zM426 57h1v1h-1zM433 57h1v1h-1zM435 57h1v1h-1zM439 57h2v1h-2zM442 57h1v1h-1zM450 57h1v1h-1zM452 57h1v1h-1zM458 57h1v1h-1zM484 57h1v1h-1zM492 57h1v1h-1zM496 57h2v1h-2zM508 57h1v1h-1zM516 57h1v1h-1zM528 57h1v1h-1zM534 57h1v1h-1zM542 57h1v1h-1zM545 57h3v1h-3zM560 57h1v1h-1zM566 57h1v1h-1zM568 57h1v1h-1zM593 57h1v1h-1zM606 57h1v1h-1zM613 57h1v1h-1zM617 57h1v1h-1zM620 57h1v1h-1zM627 57h2v1h-2zM664 57h1v1h-1zM667 57h2v1h-2zM671 57h2v1h-2zM675 57h2v1h-2zM679 57h1v1h-1zM695 57h1v1h-1zM698 57h1v1h-1zM703 57h2v1h-2zM708 57h1v1h-1zM711 57h1v1h-1zM714 57h1v1h-1zM724 57h1v1h-1zM734 57h1v1h-1zM745 57h1v1h-1zM749 57h1v1h-1zM770 57h2v1h-2zM774 57h1v1h-1zM809 57h1v1h-1zM820 57h1v1h-1zM839 57h1v1h-1zM852 57h1v1h-1zM857 57h1v1h-1zM867 57h1v1h-1zM884 57h1v1h-1zM888 57h1v1h-1zM894 57h2v1h-2zM912 57h1v1h-1zM106 56h1v1h-1zM116 56h1v1h-1zM143 56h1v1h-1zM207 56h1v1h-1zM212 56h1v1h-1zM283 56h1v1h-1zM292 56h1v1h-1zM335 56h1v1h-1zM354 56h1v1h-1zM435 56h1v1h-1zM439 56h1v1h-1zM442 56h1v1h-1zM450 56h1v1h-1zM452 56h1v1h-1zM467 56h1v1h-1zM492 56h1v1h-1zM496 56h1v1h-1zM517 56h1v1h-1zM547 56h1v1h-1zM552 56h1v1h-1zM556 56h1v1h-1zM565 56h2v1h-2zM582 56h1v1h-1zM592 56h1v1h-1zM596 56h2v1h-2zM611 56h3v1h-3zM617 56h1v1h-1zM620 56h1v1h-1zM623 56h2v1h-2zM628 56h1v1h-1zM662 56h1v1h-1zM664 56h1v1h-1zM671 56h1v1h-1zM675 56h1v1h-1zM695 56h1v1h-1zM703 56h2v1h-2zM711 56h1v1h-1zM761 56h1v1h-1zM774 56h1v1h-1zM806 56h1v1h-1zM809 56h1v1h-1zM820 56h1v1h-1zM852 56h1v1h-1zM894 56h1v1h-1zM125 55h1v1h-1zM207 55h1v1h-1zM283 55h1v1h-1zM330 55h1v1h-1zM339 55h1v1h-1zM354 55h1v1h-1zM442 55h1v1h-1zM467 55h1v1h-1zM484 55h1v1h-1zM517 55h1v1h-1zM597 55h1v1h-1zM611 55h1v1h-1zM614 55h2v1h-2zM618 55h3v1h-3zM623 55h1v1h-1zM628 55h1v1h-1zM664 55h1v1h-1zM667 55h2v1h-2zM671 55h1v1h-1zM673 55h1v1h-1zM704 55h1v1h-1zM806 55h1v1h-1zM894 55h1v1h-1zM125 54h1v1h-1zM207 54h1v1h-1zM283 54h1v1h-1zM339 54h1v1h-1zM354 54h1v1h-1zM467 54h1v1h-1zM492 54h1v1h-1zM496 54h1v1h-1zM565 54h1v1h-1zM596 54h2v1h-2zM611 54h1v1h-1zM614 54h2v1h-2zM618 54h3v1h-3zM623 54h2v1h-2zM627 54h2v1h-2zM663 54h2v1h-2zM667 54h2v1h-2zM673 54h1v1h-1zM806 54h1v1h-1zM894 54h1v1h-1zM125 53h1v1h-1zM247 53h1v1h-1zM283 53h1v1h-1zM568 53h1v1h-1zM596 53h1v1h-1zM614 53h2v1h-2zM618 53h3v1h-3zM622 53h3v1h-3zM628 53h1v1h-1zM630 53h1v1h-1zM662 53h1v1h-1zM664 53h1v1h-1zM668 53h1v1h-1zM671 53h1v1h-1zM673 53h2v1h-2zM615 52h2v1h-2zM618 52h1v1h-1zM621 52h4v1h-4zM627 52h1v1h-1zM630 52h1v1h-1zM664 52h1v1h-1zM669 52h1v1h-1zM673 52h2v1h-2zM615 51h1v1h-1zM622 51h1v1h-1zM624 51h2v1h-2zM627 51h2v1h-2zM630 51h2v1h-2zM662 51h1v1h-1zM664 51h1v1h-1zM669 51h1v1h-1zM673 51h2v1h-2zM125 50h1v1h-1zM621 50h2v1h-2zM624 50h2v1h-2zM627 50h1v1h-1zM630 50h2v1h-2zM664 50h2v1h-2zM667 50h2v1h-2zM670 50h1v1h-1zM673 50h2v1h-2zM624 49h4v1h-4zM630 49h1v1h-1zM657 49h2v1h-2zM661 49h2v1h-2zM664 49h1v1h-1zM667 49h1v1h-1zM669 49h1v1h-1zM673 49h2v1h-2zM626 48h2v1h-2zM629 48h1v1h-1zM635 48h1v1h-1zM638 48h1v1h-1zM657 48h1v1h-1zM662 48h1v1h-1zM665 48h3v1h-3zM669 48h2v1h-2zM673 48h2v1h-2zM626 47h1v1h-1zM629 47h1v1h-1zM632 47h1v1h-1zM635 47h4v1h-4zM641 47h1v1h-1zM654 47h1v1h-1zM657 47h2v1h-2zM661 47h2v1h-2zM664 47h2v1h-2zM667 47h4v1h-4zM674 47h1v1h-1zM632 46h2v1h-2zM635 46h3v1h-3zM641 46h1v1h-1zM657 46h2v1h-2zM662 46h2v1h-2zM665 46h1v1h-1zM668 46h3v1h-3zM632 45h4v1h-4zM637 45h2v1h-2zM640 45h3v1h-3zM651 45h2v1h-2zM657 45h2v1h-2zM662 45h1v1h-1zM665 45h3v1h-3zM669 45h2v1h-2zM504 44h1v1h-1zM633 44h5v1h-5zM639 44h1v1h-1zM641 44h2v1h-2zM646 44h1v1h-1zM657 44h2v1h-2zM661 44h3v1h-3zM665 44h6v1h-6zM633 43h2v1h-2zM638 43h1v1h-1zM640 43h3v1h-3zM644 43h1v1h-1zM652 43h1v1h-1zM657 43h2v1h-2zM661 43h3v1h-3zM665 43h3v1h-3zM669 43h2v1h-2zM499 42h1v1h-1zM506 42h1v1h-1zM512 42h3v1h-3zM633 42h2v1h-2zM637 42h1v1h-1zM639 42h2v1h-2zM642 42h1v1h-1zM651 42h2v1h-2zM654 42h1v1h-1zM657 42h1v1h-1zM660 42h4v1h-4zM665 42h3v1h-3zM669 42h2v1h-2zM506 41h3v1h-3zM510 41h1v1h-1zM513 41h1v1h-1zM515 41h3v1h-3zM639 41h2v1h-2zM642 41h3v1h-3zM652 41h1v1h-1zM661 41h2v1h-2zM665 41h2v1h-2zM668 41h2v1h-2zM508 40h1v1h-1zM643 40h2v1h-2zM646 40h2v1h-2zM651 40h1v1h-1zM654 40h2v1h-2zM658 40h3v1h-3zM663 40h1v1h-1zM667 40h1v1h-1zM508 39h1v1h-1zM643 39h1v1h-1zM646 39h4v1h-4zM651 39h1v1h-1zM653 39h1v1h-1zM655 39h2v1h-2zM659 39h3v1h-3zM663 39h1v1h-1zM508 38h1v1h-1zM645 38h1v1h-1zM647 38h4v1h-4zM653 38h1v1h-1zM655 38h1v1h-1zM659 38h2v1h-2zM508 37h1v1h-1zM489 17h1v1h-1zM492 17h1v1h-1zM501 17h3v1h-3zM506 17h1v1h-1zM509 17h2v1h-2zM512 17h1v1h-1zM515 17h2v1h-2zM519 17h1v1h-1zM522 17h1v1h-1zM525 17h2v1h-2zM530 17h1v1h-1zM489 16h1v1h-1zM491 16h1v1h-1zM503 16h1v1h-1zM505 16h1v1h-1zM508 16h2v1h-2zM512 16h1v1h-1zM514 16h2v1h-2zM519 16h1v1h-1zM522 16h2v1h-2zM526 16h1v1h-1zM529 16h1v1h-1z"/><path fill="#005aff" d="M96 67h1v1h-1zM101 67h1v1h-1zM113 67h1v1h-1zM120 67h1v1h-1zM122 67h2v1h-2zM129 67h2v1h-2zM133 67h1v1h-1zM137 67h1v1h-1zM140 67h2v1h-2zM151 67h1v1h-1zM153 67h1v1h-1zM155 67h2v1h-2zM160 67h2v1h-2zM163 67h1v1h-1zM168 67h1v1h-1zM170 67h1v1h-1zM173 67h1v1h-1zM178 67h1v1h-1zM182 67h1v1h-1zM196 67h1v1h-1zM204 67h1v1h-1zM216 67h1v1h-1zM224 67h4v1h-4zM236 67h1v1h-1zM238 67h1v1h-1zM244 67h2v1h-2zM255 67h3v1h-3zM294 67h1v1h-1zM297 67h1v1h-1zM311 67h1v1h-1zM313 67h1v1h-1zM317 67h2v1h-2zM322 67h1v1h-1zM326 67h2v1h-2zM343 67h1v1h-1zM350 67h1v1h-1zM357 67h1v1h-1zM363 67h1v1h-1zM371 67h1v1h-1zM376 67h1v1h-1zM378 67h1v1h-1zM388 67h1v1h-1zM391 67h2v1h-2zM394 67h2v1h-2zM402 67h2v1h-2zM406 67h3v1h-3zM411 67h1v1h-1zM413 67h2v1h-2zM416 67h1v1h-1zM430 67h1v1h-1zM432 67h1v1h-1zM437 67h1v1h-1zM444 67h2v1h-2zM451 67h1v1h-1zM456 67h1v1h-1zM465 67h2v1h-2zM469 67h1v1h-1zM473 67h1v1h-1zM479 67h1v1h-1zM481 67h1v1h-1zM483 67h1v1h-1zM499 67h1v1h-1zM501 67h1v1h-1zM519 67h1v1h-1zM521 67h2v1h-2zM530 67h1v1h-1zM537 67h1v1h-1zM541 67h1v1h-1zM543 67h1v1h-1zM548 67h1v1h-1zM554 67h1v1h-1zM562 67h1v1h-1zM570 67h2v1h-2zM705 67h1v1h-1zM709 67h1v1h-1zM717 67h3v1h-3zM726 67h1v1h-1zM732 67h1v1h-1zM743 67h1v1h-1zM779 67h2v1h-2zM784 67h2v1h-2zM791 67h1v1h-1zM808 67h1v1h-1zM811 67h1v1h-1zM813 67h1v1h-1zM822 67h1v1h-1zM824 67h1v1h-1zM826 67h1v1h-1zM838 67h1v1h-1zM840 67h1v1h-1zM845 67h1v1h-1zM849 67h1v1h-1zM851 67h1v1h-1zM861 67h1v1h-1zM863 67h1v1h-1zM871 67h2v1h-2zM875 67h1v1h-1zM881 67h1v1h-1zM885 67h2v1h-2zM98 66h1v1h-1zM100 66h2v1h-2zM104 66h2v1h-2zM110 66h2v1h-2zM114 66h1v1h-1zM116 66h9v1h-9zM127 66h2v1h-2zM132 66h2v1h-2zM135 66h1v1h-1zM139 66h1v1h-1zM141 66h7v1h-7zM149 66h2v1h-2zM152 66h1v1h-1zM154 66h1v1h-1zM158 66h2v1h-2zM161 66h2v1h-2zM168 66h1v1h-1zM170 66h2v1h-2zM174 66h1v1h-1zM176 66h1v1h-1zM181 66h3v1h-3zM185 66h8v1h-8zM194 66h2v1h-2zM199 66h2v1h-2zM203 66h2v1h-2zM210 66h2v1h-2zM213 66h5v1h-5zM219 66h2v1h-2zM222 66h2v1h-2zM228 66h1v1h-1zM233 66h1v1h-1zM236 66h1v1h-1zM242 66h1v1h-1zM244 66h1v1h-1zM247 66h1v1h-1zM249 66h5v1h-5zM257 66h5v1h-5zM263 66h4v1h-4zM268 66h1v1h-1zM271 66h2v1h-2zM274 66h4v1h-4zM280 66h1v1h-1zM282 66h1v1h-1zM285 66h1v1h-1zM287 66h1v1h-1zM290 66h2v1h-2zM293 66h3v1h-3zM298 66h1v1h-1zM301 66h1v1h-1zM304 66h1v1h-1zM306 66h1v1h-1zM310 66h4v1h-4zM315 66h1v1h-1zM318 66h1v1h-1zM323 66h2v1h-2zM326 66h2v1h-2zM329 66h1v1h-1zM331 66h3v1h-3zM338 66h1v1h-1zM343 66h3v1h-3zM347 66h1v1h-1zM351 66h1v1h-1zM356 66h1v1h-1zM359 66h1v1h-1zM361 66h5v1h-5zM367 66h3v1h-3zM372 66h2v1h-2zM376 66h1v1h-1zM379 66h1v1h-1zM383 66h1v1h-1zM386 66h2v1h-2zM391 66h5v1h-5zM399 66h5v1h-5zM411 66h2v1h-2zM415 66h5v1h-5zM422 66h1v1h-1zM424 66h9v1h-9zM436 66h3v1h-3zM440 66h2v1h-2zM444 66h1v1h-1zM447 66h1v1h-1zM449 66h1v1h-1zM451 66h1v1h-1zM455 66h1v1h-1zM457 66h6v1h-6zM466 66h1v1h-1zM468 66h3v1h-3zM475 66h1v1h-1zM478 66h1v1h-1zM480 66h3v1h-3zM484 66h3v1h-3zM488 66h1v1h-1zM491 66h1v1h-1zM493 66h1v1h-1zM495 66h1v1h-1zM498 66h1v1h-1zM500 66h1v1h-1zM502 66h1v1h-1zM520 66h3v1h-3zM524 66h1v1h-1zM528 66h2v1h-2zM531 66h3v1h-3zM535 66h6v1h-6zM543 66h1v1h-1zM549 66h3v1h-3zM553 66h1v1h-1zM555 66h1v1h-1zM558 66h2v1h-2zM562 66h3v1h-3zM566 66h1v1h-1zM569 66h1v1h-1zM572 66h1v1h-1zM575 66h5v1h-5zM582 66h1v1h-1zM584 66h1v1h-1zM586 66h2v1h-2zM590 66h2v1h-2zM594 66h1v1h-1zM598 66h4v1h-4zM604 66h7v1h-7zM612 66h2v1h-2zM616 66h2v1h-2zM628 66h1v1h-1zM665 66h1v1h-1zM667 66h2v1h-2zM677 66h6v1h-6zM686 66h2v1h-2zM699 66h4v1h-4zM704 66h2v1h-2zM708 66h1v1h-1zM710 66h1v1h-1zM713 66h1v1h-1zM716 66h2v1h-2zM720 66h1v1h-1zM722 66h1v1h-1zM725 66h1v1h-1zM727 66h1v1h-1zM731 66h1v1h-1zM734 66h5v1h-5zM743 66h4v1h-4zM749 66h1v1h-1zM751 66h1v1h-1zM755 66h1v1h-1zM757 66h1v1h-1zM760 66h1v1h-1zM762 66h2v1h-2zM765 66h4v1h-4zM770 66h5v1h-5zM776 66h2v1h-2zM779 66h2v1h-2zM783 66h1v1h-1zM785 66h1v1h-1zM789 66h2v1h-2zM792 66h3v1h-3zM796 66h3v1h-3zM800 66h2v1h-2zM805 66h1v1h-1zM808 66h1v1h-1zM811 66h1v1h-1zM814 66h2v1h-2zM817 66h3v1h-3zM822 66h2v1h-2zM825 66h3v1h-3zM829 66h1v1h-1zM835 66h1v1h-1zM840 66h3v1h-3zM844 66h1v1h-1zM847 66h1v1h-1zM849 66h1v1h-1zM854 66h1v1h-1zM859 66h2v1h-2zM862 66h1v1h-1zM866 66h1v1h-1zM868 66h1v1h-1zM870 66h1v1h-1zM873 66h8v1h-8zM882 66h1v1h-1zM884 66h2v1h-2zM890 66h3v1h-3zM895 66h1v1h-1zM898 66h2v1h-2zM902 66h6v1h-6zM910 66h2v1h-2zM97 65h1v1h-1zM99 65h1v1h-1zM106 65h2v1h-2zM109 65h2v1h-2zM114 65h1v1h-1zM116 65h1v1h-1zM124 65h1v1h-1zM126 65h1v1h-1zM131 65h2v1h-2zM135 65h2v1h-2zM138 65h1v1h-1zM140 65h1v1h-1zM142 65h2v1h-2zM145 65h2v1h-2zM148 65h1v1h-1zM150 65h1v1h-1zM154 65h1v1h-1zM156 65h1v1h-1zM159 65h1v1h-1zM164 65h1v1h-1zM169 65h1v1h-1zM171 65h2v1h-2zM183 65h3v1h-3zM187 65h5v1h-5zM195 65h2v1h-2zM203 65h1v1h-1zM205 65h3v1h-3zM209 65h3v1h-3zM213 65h2v1h-2zM216 65h1v1h-1zM218 65h1v1h-1zM220 65h2v1h-2zM224 65h1v1h-1zM228 65h1v1h-1zM234 65h4v1h-4zM240 65h3v1h-3zM247 65h1v1h-1zM249 65h2v1h-2zM252 65h1v1h-1zM254 65h1v1h-1zM258 65h2v1h-2zM264 65h1v1h-1zM267 65h3v1h-3zM272 65h1v1h-1zM274 65h5v1h-5zM281 65h1v1h-1zM289 65h4v1h-4zM299 65h1v1h-1zM302 65h3v1h-3zM306 65h2v1h-2zM313 65h3v1h-3zM321 65h1v1h-1zM323 65h1v1h-1zM328 65h1v1h-1zM335 65h4v1h-4zM340 65h2v1h-2zM348 65h2v1h-2zM356 65h1v1h-1zM361 65h1v1h-1zM364 65h4v1h-4zM369 65h3v1h-3zM373 65h1v1h-1zM375 65h1v1h-1zM382 65h1v1h-1zM389 65h1v1h-1zM397 65h1v1h-1zM403 65h1v1h-1zM405 65h1v1h-1zM409 65h1v1h-1zM411 65h1v1h-1zM417 65h1v1h-1zM421 65h2v1h-2zM426 65h1v1h-1zM429 65h1v1h-1zM433 65h3v1h-3zM438 65h4v1h-4zM449 65h2v1h-2zM452 65h1v1h-1zM454 65h1v1h-1zM457 65h1v1h-1zM459 65h1v1h-1zM461 65h1v1h-1zM468 65h1v1h-1zM477 65h1v1h-1zM480 65h1v1h-1zM484 65h2v1h-2zM489 65h1v1h-1zM491 65h3v1h-3zM495 65h1v1h-1zM497 65h2v1h-2zM502 65h2v1h-2zM511 65h4v1h-4zM516 65h1v1h-1zM518 65h1v1h-1zM522 65h1v1h-1zM526 65h1v1h-1zM528 65h1v1h-1zM531 65h2v1h-2zM539 65h2v1h-2zM542 65h1v1h-1zM544 65h4v1h-4zM549 65h1v1h-1zM552 65h3v1h-3zM560 65h1v1h-1zM563 65h1v1h-1zM568 65h1v1h-1zM572 65h1v1h-1zM577 65h1v1h-1zM579 65h2v1h-2zM584 65h2v1h-2zM590 65h2v1h-2zM593 65h1v1h-1zM596 65h3v1h-3zM604 65h2v1h-2zM608 65h3v1h-3zM613 65h1v1h-1zM616 65h1v1h-1zM618 65h3v1h-3zM623 65h1v1h-1zM628 65h1v1h-1zM658 65h1v1h-1zM662 65h1v1h-1zM667 65h3v1h-3zM673 65h1v1h-1zM675 65h2v1h-2zM678 65h2v1h-2zM684 65h5v1h-5zM690 65h2v1h-2zM693 65h2v1h-2zM696 65h1v1h-1zM699 65h3v1h-3zM704 65h4v1h-4zM712 65h2v1h-2zM715 65h1v1h-1zM720 65h1v1h-1zM722 65h2v1h-2zM725 65h1v1h-1zM727 65h1v1h-1zM729 65h1v1h-1zM731 65h2v1h-2zM734 65h1v1h-1zM744 65h1v1h-1zM746 65h1v1h-1zM749 65h1v1h-1zM751 65h1v1h-1zM754 65h1v1h-1zM759 65h3v1h-3zM763 65h1v1h-1zM766 65h1v1h-1zM768 65h1v1h-1zM770 65h2v1h-2zM773 65h1v1h-1zM776 65h1v1h-1zM783 65h1v1h-1zM792 65h1v1h-1zM795 65h1v1h-1zM797 65h2v1h-2zM800 65h4v1h-4zM807 65h1v1h-1zM811 65h2v1h-2zM817 65h1v1h-1zM819 65h2v1h-2zM825 65h1v1h-1zM828 65h3v1h-3zM832 65h2v1h-2zM835 65h1v1h-1zM837 65h1v1h-1zM839 65h1v1h-1zM841 65h3v1h-3zM846 65h2v1h-2zM852 65h1v1h-1zM854 65h2v1h-2zM857 65h1v1h-1zM865 65h3v1h-3zM869 65h1v1h-1zM875 65h1v1h-1zM878 65h1v1h-1zM884 65h1v1h-1zM892 65h6v1h-6zM899 65h1v1h-1zM906 65h1v1h-1zM908 65h2v1h-2zM912 65h1v1h-1zM97 64h1v1h-1zM99 64h1v1h-1zM106 64h1v1h-1zM116 64h1v1h-1zM124 64h3v1h-3zM138 64h1v1h-1zM143 64h1v1h-1zM152 64h1v1h-1zM172 64h1v1h-1zM188 64h2v1h-2zM204 64h1v1h-1zM207 64h1v1h-1zM209 64h1v1h-1zM242 64h1v1h-1zM251 64h1v1h-1zM269 64h1v1h-1zM278 64h1v1h-1zM281 64h1v1h-1zM283 64h1v1h-1zM290 64h1v1h-1zM304 64h1v1h-1zM307 64h1v1h-1zM310 64h1v1h-1zM316 64h1v1h-1zM330 64h1v1h-1zM335 64h1v1h-1zM338 64h2v1h-2zM354 64h1v1h-1zM366 64h2v1h-2zM369 64h2v1h-2zM372 64h1v1h-1zM375 64h1v1h-1zM380 64h1v1h-1zM389 64h1v1h-1zM405 64h1v1h-1zM421 64h1v1h-1zM439 64h1v1h-1zM450 64h1v1h-1zM452 64h1v1h-1zM457 64h1v1h-1zM459 64h1v1h-1zM467 64h1v1h-1zM484 64h1v1h-1zM490 64h1v1h-1zM492 64h1v1h-1zM497 64h1v1h-1zM506 64h6v1h-6zM513 64h1v1h-1zM517 64h1v1h-1zM534 64h1v1h-1zM536 64h1v1h-1zM538 64h1v1h-1zM542 64h1v1h-1zM544 64h1v1h-1zM546 64h2v1h-2zM550 64h1v1h-1zM564 64h3v1h-3zM568 64h1v1h-1zM585 64h1v1h-1zM593 64h1v1h-1zM598 64h1v1h-1zM602 64h1v1h-1zM604 64h1v1h-1zM607 64h1v1h-1zM613 64h1v1h-1zM616 64h1v1h-1zM619 64h3v1h-3zM628 64h1v1h-1zM661 64h1v1h-1zM664 64h2v1h-2zM667 64h3v1h-3zM671 64h1v1h-1zM673 64h1v1h-1zM675 64h2v1h-2zM679 64h1v1h-1zM685 64h3v1h-3zM689 64h3v1h-3zM694 64h3v1h-3zM698 64h3v1h-3zM703 64h2v1h-2zM707 64h2v1h-2zM710 64h2v1h-2zM715 64h1v1h-1zM723 64h2v1h-2zM727 64h1v1h-1zM734 64h1v1h-1zM751 64h1v1h-1zM759 64h1v1h-1zM761 64h1v1h-1zM764 64h1v1h-1zM769 64h1v1h-1zM774 64h1v1h-1zM792 64h1v1h-1zM799 64h1v1h-1zM802 64h1v1h-1zM806 64h1v1h-1zM812 64h1v1h-1zM815 64h1v1h-1zM820 64h1v1h-1zM830 64h1v1h-1zM833 64h1v1h-1zM837 64h1v1h-1zM841 64h1v1h-1zM843 64h1v1h-1zM847 64h2v1h-2zM877 64h2v1h-2zM884 64h1v1h-1zM888 64h1v1h-1zM893 64h1v1h-1zM897 64h1v1h-1zM900 64h1v1h-1zM904 64h1v1h-1zM911 64h2v1h-2zM97 63h1v1h-1zM106 63h1v1h-1zM115 63h1v1h-1zM118 63h1v1h-1zM124 63h1v1h-1zM126 63h1v1h-1zM183 63h3v1h-3zM189 63h1v1h-1zM206 63h2v1h-2zM212 63h1v1h-1zM228 63h1v1h-1zM235 63h1v1h-1zM241 63h1v1h-1zM247 63h1v1h-1zM264 63h1v1h-1zM269 63h1v1h-1zM274 63h1v1h-1zM283 63h1v1h-1zM287 63h1v1h-1zM292 63h1v1h-1zM302 63h1v1h-1zM307 63h1v1h-1zM319 63h1v1h-1zM328 63h1v1h-1zM330 63h1v1h-1zM336 63h1v1h-1zM340 63h2v1h-2zM346 63h1v1h-1zM359 63h1v1h-1zM370 63h1v1h-1zM373 63h2v1h-2zM380 63h2v1h-2zM389 63h1v1h-1zM423 63h1v1h-1zM434 63h1v1h-1zM442 63h1v1h-1zM448 63h1v1h-1zM450 63h1v1h-1zM452 63h1v1h-1zM467 63h2v1h-2zM484 63h1v1h-1zM492 63h1v1h-1zM496 63h2v1h-2zM506 63h2v1h-2zM509 63h2v1h-2zM512 63h3v1h-3zM516 63h2v1h-2zM540 63h1v1h-1zM542 63h1v1h-1zM545 63h3v1h-3zM553 63h1v1h-1zM556 63h1v1h-1zM565 63h2v1h-2zM582 63h1v1h-1zM584 63h2v1h-2zM593 63h1v1h-1zM603 63h1v1h-1zM611 63h4v1h-4zM616 63h1v1h-1zM618 63h4v1h-4zM623 63h1v1h-1zM628 63h1v1h-1zM662 63h1v1h-1zM666 63h4v1h-4zM671 63h1v1h-1zM675 63h1v1h-1zM678 63h1v1h-1zM684 63h2v1h-2zM687 63h4v1h-4zM695 63h2v1h-2zM698 63h2v1h-2zM703 63h1v1h-1zM708 63h1v1h-1zM711 63h1v1h-1zM714 63h1v1h-1zM737 63h1v1h-1zM758 63h2v1h-2zM763 63h1v1h-1zM768 63h3v1h-3zM801 63h2v1h-2zM806 63h1v1h-1zM809 63h1v1h-1zM819 63h1v1h-1zM847 63h2v1h-2zM852 63h1v1h-1zM856 63h2v1h-2zM865 63h1v1h-1zM878 63h1v1h-1zM884 63h1v1h-1zM893 63h2v1h-2zM897 63h1v1h-1zM104 62h1v1h-1zM106 62h1v1h-1zM116 62h1v1h-1zM124 62h2v1h-2zM132 62h1v1h-1zM138 62h1v1h-1zM164 62h1v1h-1zM169 62h1v1h-1zM172 62h1v1h-1zM184 62h1v1h-1zM199 62h1v1h-1zM207 62h3v1h-3zM213 62h1v1h-1zM218 62h1v1h-1zM228 62h1v1h-1zM240 62h1v1h-1zM247 62h1v1h-1zM251 62h1v1h-1zM267 62h3v1h-3zM274 62h1v1h-1zM278 62h1v1h-1zM283 62h1v1h-1zM287 62h1v1h-1zM292 62h1v1h-1zM302 62h1v1h-1zM314 62h1v1h-1zM328 62h1v1h-1zM330 62h1v1h-1zM337 62h1v1h-1zM340 62h1v1h-1zM365 62h1v1h-1zM369 62h2v1h-2zM380 62h1v1h-1zM389 62h1v1h-1zM405 62h1v1h-1zM412 62h1v1h-1zM433 62h1v1h-1zM435 62h1v1h-1zM439 62h1v1h-1zM442 62h1v1h-1zM447 62h1v1h-1zM450 62h1v1h-1zM452 62h1v1h-1zM467 62h2v1h-2zM484 62h1v1h-1zM491 62h1v1h-1zM496 62h1v1h-1zM503 62h1v1h-1zM507 62h1v1h-1zM517 62h1v1h-1zM542 62h1v1h-1zM546 62h2v1h-2zM556 62h1v1h-1zM566 62h1v1h-1zM568 62h1v1h-1zM585 62h1v1h-1zM593 62h1v1h-1zM596 62h2v1h-2zM602 62h1v1h-1zM612 62h1v1h-1zM616 62h1v1h-1zM618 62h4v1h-4zM628 62h1v1h-1zM657 62h1v1h-1zM662 62h1v1h-1zM664 62h2v1h-2zM667 62h3v1h-3zM673 62h1v1h-1zM685 62h2v1h-2zM690 62h1v1h-1zM694 62h2v1h-2zM699 62h1v1h-1zM701 62h1v1h-1zM704 62h1v1h-1zM708 62h1v1h-1zM711 62h1v1h-1zM714 62h1v1h-1zM724 62h2v1h-2zM734 62h1v1h-1zM745 62h2v1h-2zM761 62h1v1h-1zM770 62h2v1h-2zM786 62h1v1h-1zM801 62h1v1h-1zM806 62h1v1h-1zM830 62h1v1h-1zM833 62h1v1h-1zM839 62h1v1h-1zM852 62h1v1h-1zM857 62h2v1h-2zM880 62h1v1h-1zM884 62h1v1h-1zM888 62h1v1h-1zM893 62h1v1h-1zM897 62h1v1h-1zM906 62h1v1h-1zM97 61h1v1h-1zM100 61h1v1h-1zM106 61h1v1h-1zM115 61h2v1h-2zM125 61h1v1h-1zM143 61h1v1h-1zM172 61h1v1h-1zM207 61h1v1h-1zM213 61h1v1h-1zM228 61h1v1h-1zM247 61h1v1h-1zM269 61h1v1h-1zM302 61h1v1h-1zM314 61h1v1h-1zM330 61h1v1h-1zM335 61h2v1h-2zM339 61h1v1h-1zM345 61h2v1h-2zM354 61h1v1h-1zM366 61h1v1h-1zM369 61h2v1h-2zM374 61h1v1h-1zM380 61h2v1h-2zM405 61h1v1h-1zM412 61h1v1h-1zM421 61h1v1h-1zM433 61h1v1h-1zM435 61h1v1h-1zM441 61h1v1h-1zM450 61h1v1h-1zM452 61h1v1h-1zM467 61h1v1h-1zM492 61h1v1h-1zM496 61h2v1h-2zM503 61h1v1h-1zM516 61h2v1h-2zM528 61h1v1h-1zM531 61h1v1h-1zM542 61h1v1h-1zM545 61h1v1h-1zM547 61h1v1h-1zM552 61h1v1h-1zM565 61h1v1h-1zM568 61h1v1h-1zM585 61h1v1h-1zM593 61h1v1h-1zM596 61h1v1h-1zM602 61h1v1h-1zM611 61h2v1h-2zM614 61h1v1h-1zM616 61h5v1h-5zM623 61h2v1h-2zM627 61h2v1h-2zM658 61h1v1h-1zM666 61h3v1h-3zM670 61h2v1h-2zM675 61h1v1h-1zM678 61h2v1h-2zM686 61h1v1h-1zM694 61h2v1h-2zM698 61h1v1h-1zM700 61h1v1h-1zM703 61h1v1h-1zM708 61h1v1h-1zM710 61h2v1h-2zM714 61h2v1h-2zM746 61h1v1h-1zM749 61h1v1h-1zM770 61h1v1h-1zM774 61h1v1h-1zM802 61h1v1h-1zM806 61h1v1h-1zM831 61h1v1h-1zM843 61h1v1h-1zM865 61h1v1h-1zM888 61h1v1h-1zM893 61h2v1h-2zM897 61h1v1h-1zM107 60h1v1h-1zM124 60h2v1h-2zM172 60h1v1h-1zM183 60h1v1h-1zM188 60h1v1h-1zM203 60h1v1h-1zM207 60h1v1h-1zM214 60h1v1h-1zM219 60h1v1h-1zM228 60h1v1h-1zM240 60h1v1h-1zM247 60h1v1h-1zM251 60h1v1h-1zM268 60h2v1h-2zM278 60h1v1h-1zM291 60h2v1h-2zM307 60h1v1h-1zM328 60h1v1h-1zM330 60h1v1h-1zM335 60h1v1h-1zM339 60h1v1h-1zM354 60h1v1h-1zM359 60h1v1h-1zM380 60h1v1h-1zM398 60h1v1h-1zM421 60h1v1h-1zM434 60h2v1h-2zM439 60h1v1h-1zM442 60h1v1h-1zM452 60h1v1h-1zM454 60h1v1h-1zM467 60h1v1h-1zM492 60h1v1h-1zM503 60h1v1h-1zM516 60h1v1h-1zM534 60h1v1h-1zM545 60h1v1h-1zM547 60h1v1h-1zM556 60h1v1h-1zM565 60h2v1h-2zM568 60h1v1h-1zM593 60h1v1h-1zM597 60h1v1h-1zM614 60h1v1h-1zM616 60h1v1h-1zM619 60h5v1h-5zM628 60h1v1h-1zM630 60h1v1h-1zM664 60h1v1h-1zM668 60h2v1h-2zM671 60h1v1h-1zM675 60h2v1h-2zM679 60h1v1h-1zM684 60h2v1h-2zM687 60h1v1h-1zM690 60h1v1h-1zM695 60h2v1h-2zM698 60h1v1h-1zM703 60h1v1h-1zM708 60h1v1h-1zM711 60h1v1h-1zM714 60h1v1h-1zM724 60h2v1h-2zM751 60h1v1h-1zM758 60h1v1h-1zM769 60h2v1h-2zM774 60h1v1h-1zM801 60h2v1h-2zM809 60h1v1h-1zM812 60h1v1h-1zM820 60h1v1h-1zM833 60h1v1h-1zM839 60h1v1h-1zM852 60h1v1h-1zM888 60h1v1h-1zM894 60h1v1h-1zM106 59h1v1h-1zM116 59h1v1h-1zM124 59h2v1h-2zM172 59h1v1h-1zM189 59h1v1h-1zM206 59h2v1h-2zM212 59h1v1h-1zM218 59h1v1h-1zM268 59h2v1h-2zM274 59h1v1h-1zM283 59h1v1h-1zM328 59h1v1h-1zM330 59h1v1h-1zM335 59h2v1h-2zM339 59h1v1h-1zM345 59h1v1h-1zM369 59h2v1h-2zM380 59h1v1h-1zM421 59h1v1h-1zM429 59h1v1h-1zM435 59h1v1h-1zM439 59h2v1h-2zM442 59h1v1h-1zM450 59h1v1h-1zM452 59h1v1h-1zM484 59h1v1h-1zM492 59h1v1h-1zM496 59h1v1h-1zM528 59h1v1h-1zM534 59h1v1h-1zM546 59h2v1h-2zM552 59h1v1h-1zM566 59h1v1h-1zM568 59h1v1h-1zM592 59h1v1h-1zM597 59h1v1h-1zM611 59h2v1h-2zM619 59h5v1h-5zM627 59h2v1h-2zM666 59h4v1h-4zM673 59h1v1h-1zM675 59h1v1h-1zM694 59h2v1h-2zM703 59h2v1h-2zM711 59h1v1h-1zM714 59h1v1h-1zM724 59h1v1h-1zM729 59h1v1h-1zM734 59h1v1h-1zM751 59h1v1h-1zM768 59h3v1h-3zM772 59h1v1h-1zM774 59h1v1h-1zM801 59h2v1h-2zM809 59h1v1h-1zM820 59h1v1h-1zM839 59h1v1h-1zM843 59h1v1h-1zM852 59h1v1h-1zM865 59h1v1h-1zM888 59h1v1h-1zM893 59h2v1h-2zM897 59h1v1h-1zM106 58h1v1h-1zM124 58h2v1h-2zM206 58h2v1h-2zM247 58h1v1h-1zM328 58h1v1h-1zM330 58h1v1h-1zM337 58h1v1h-1zM339 58h1v1h-1zM345 58h1v1h-1zM354 58h1v1h-1zM380 58h1v1h-1zM435 58h1v1h-1zM439 58h1v1h-1zM442 58h1v1h-1zM467 58h1v1h-1zM492 58h1v1h-1zM496 58h1v1h-1zM517 58h1v1h-1zM556 58h1v1h-1zM565 58h1v1h-1zM568 58h1v1h-1zM597 58h1v1h-1zM611 58h1v1h-1zM614 58h1v1h-1zM618 58h3v1h-3zM622 58h1v1h-1zM627 58h1v1h-1zM629 58h2v1h-2zM651 58h1v1h-1zM657 58h1v1h-1zM661 58h2v1h-2zM665 58h5v1h-5zM673 58h1v1h-1zM675 58h1v1h-1zM703 58h1v1h-1zM711 58h1v1h-1zM758 58h1v1h-1zM761 58h1v1h-1zM770 58h1v1h-1zM806 58h1v1h-1zM852 58h1v1h-1zM894 58h1v1h-1zM125 57h1v1h-1zM330 57h1v1h-1zM339 57h1v1h-1zM354 57h1v1h-1zM467 57h1v1h-1zM517 57h1v1h-1zM565 57h1v1h-1zM596 57h2v1h-2zM611 57h2v1h-2zM614 57h1v1h-1zM616 57h1v1h-1zM618 57h2v1h-2zM621 57h5v1h-5zM630 57h2v1h-2zM661 57h1v1h-1zM663 57h1v1h-1zM665 57h1v1h-1zM669 57h2v1h-2zM673 57h1v1h-1zM769 57h1v1h-1zM806 57h1v1h-1zM897 57h1v1h-1zM125 56h1v1h-1zM339 56h1v1h-1zM614 56h1v1h-1zM616 56h1v1h-1zM618 56h2v1h-2zM621 56h2v1h-2zM627 56h1v1h-1zM630 56h1v1h-1zM657 56h1v1h-1zM659 56h1v1h-1zM665 56h6v1h-6zM673 56h2v1h-2zM596 55h1v1h-1zM621 55h2v1h-2zM624 55h1v1h-1zM627 55h1v1h-1zM629 55h2v1h-2zM641 55h1v1h-1zM657 55h2v1h-2zM660 55h1v1h-1zM662 55h2v1h-2zM665 55h2v1h-2zM669 55h2v1h-2zM674 55h1v1h-1zM621 54h2v1h-2zM625 54h1v1h-1zM629 54h3v1h-3zM637 54h1v1h-1zM658 54h1v1h-1zM661 54h2v1h-2zM665 54h2v1h-2zM669 54h2v1h-2zM674 54h1v1h-1zM621 53h1v1h-1zM625 53h3v1h-3zM629 53h1v1h-1zM631 53h2v1h-2zM636 53h1v1h-1zM657 53h2v1h-2zM665 53h3v1h-3zM669 53h2v1h-2zM625 52h2v1h-2zM629 52h1v1h-1zM631 52h1v1h-1zM636 52h1v1h-1zM638 52h1v1h-1zM642 52h1v1h-1zM652 52h1v1h-1zM657 52h3v1h-3zM661 52h3v1h-3zM665 52h1v1h-1zM667 52h2v1h-2zM670 52h1v1h-1zM626 51h1v1h-1zM629 51h1v1h-1zM632 51h1v1h-1zM636 51h3v1h-3zM641 51h2v1h-2zM652 51h1v1h-1zM657 51h1v1h-1zM660 51h2v1h-2zM663 51h1v1h-1zM665 51h1v1h-1zM668 51h1v1h-1zM670 51h1v1h-1zM626 50h1v1h-1zM629 50h1v1h-1zM632 50h1v1h-1zM636 50h3v1h-3zM644 50h1v1h-1zM652 50h1v1h-1zM654 50h1v1h-1zM657 50h2v1h-2zM660 50h4v1h-4zM666 50h1v1h-1zM669 50h1v1h-1zM632 49h1v1h-1zM635 49h4v1h-4zM640 49h3v1h-3zM652 49h2v1h-2zM659 49h1v1h-1zM663 49h1v1h-1zM665 49h2v1h-2zM670 49h1v1h-1zM632 48h3v1h-3zM636 48h2v1h-2zM639 48h4v1h-4zM644 48h3v1h-3zM650 48h3v1h-3zM654 48h2v1h-2zM658 48h4v1h-4zM663 48h1v1h-1zM639 47h2v1h-2zM642 47h1v1h-1zM644 47h1v1h-1zM646 47h1v1h-1zM651 47h2v1h-2zM656 47h1v1h-1zM659 47h2v1h-2zM663 47h1v1h-1zM666 47h1v1h-1zM634 46h1v1h-1zM638 46h2v1h-2zM642 46h5v1h-5zM651 46h2v1h-2zM654 46h2v1h-2zM660 46h2v1h-2zM666 46h1v1h-1zM639 45h1v1h-1zM643 45h5v1h-5zM654 45h3v1h-3zM659 45h3v1h-3zM663 45h1v1h-1zM498 44h1v1h-1zM501 44h1v1h-1zM507 44h2v1h-2zM510 44h3v1h-3zM514 44h2v1h-2zM519 44h1v1h-1zM640 44h1v1h-1zM643 44h3v1h-3zM647 44h1v1h-1zM649 44h6v1h-6zM656 44h1v1h-1zM659 44h2v1h-2zM497 43h1v1h-1zM499 43h2v1h-2zM505 43h1v1h-1zM507 43h1v1h-1zM511 43h6v1h-6zM518 43h2v1h-2zM639 43h1v1h-1zM645 43h5v1h-5zM651 43h1v1h-1zM654 43h1v1h-1zM656 43h1v1h-1zM659 43h2v1h-2zM497 42h1v1h-1zM500 42h1v1h-1zM504 42h2v1h-2zM507 42h2v1h-2zM510 42h2v1h-2zM515 42h1v1h-1zM518 42h2v1h-2zM643 42h6v1h-6zM653 42h1v1h-1zM655 42h2v1h-2zM658 42h2v1h-2zM645 41h1v1h-1zM647 41h2v1h-2zM650 41h2v1h-2zM653 41h4v1h-4zM659 41h2v1h-2zM663 41h1v1h-1zM648 40h3v1h-3zM653 40h1v1h-1zM656 40h1v1h-1zM650 39h1v1h-1zM491 17h1v1h-1zM507 17h2v1h-2zM518 17h1v1h-1zM521 17h1v1h-1zM523 17h2v1h-2zM527 17h1v1h-1zM529 17h1v1h-1zM532 17h1v1h-1zM492 16h1v1h-1zM507 16h1v1h-1zM518 16h1v1h-1zM520 16h2v1h-2zM524 16h2v1h-2zM527 16h2v1h-2zM531 16h2v1h-2z"/><path fill="#0070ff" d="M128 68h1v1h-1zM153 68h1v1h-1zM160 68h1v1h-1zM225 68h1v1h-1zM231 68h1v1h-1zM248 68h1v1h-1zM256 68h1v1h-1zM309 68h1v1h-1zM311 68h1v1h-1zM391 68h1v1h-1zM403 68h1v1h-1zM407 68h2v1h-2zM463 68h1v1h-1zM465 68h1v1h-1zM481 68h1v1h-1zM483 68h1v1h-1zM533 68h1v1h-1zM561 68h1v1h-1zM730 68h1v1h-1zM741 68h1v1h-1zM781 68h2v1h-2zM861 68h1v1h-1zM886 68h1v1h-1zM98 67h3v1h-3zM102 67h2v1h-2zM105 67h1v1h-1zM108 67h1v1h-1zM110 67h3v1h-3zM114 67h2v1h-2zM117 67h1v1h-1zM119 67h1v1h-1zM121 67h1v1h-1zM127 67h1v1h-1zM132 67h1v1h-1zM134 67h1v1h-1zM136 67h1v1h-1zM139 67h1v1h-1zM144 67h5v1h-5zM150 67h1v1h-1zM152 67h1v1h-1zM154 67h1v1h-1zM158 67h1v1h-1zM162 67h1v1h-1zM165 67h2v1h-2zM169 67h1v1h-1zM171 67h1v1h-1zM174 67h4v1h-4zM180 67h1v1h-1zM183 67h4v1h-4zM188 67h1v1h-1zM190 67h1v1h-1zM192 67h4v1h-4zM198 67h3v1h-3zM202 67h2v1h-2zM205 67h2v1h-2zM210 67h1v1h-1zM214 67h2v1h-2zM217 67h6v1h-6zM229 67h5v1h-5zM237 67h1v1h-1zM240 67h4v1h-4zM246 67h1v1h-1zM248 67h7v1h-7zM258 67h2v1h-2zM261 67h6v1h-6zM273 67h1v1h-1zM275 67h2v1h-2zM278 67h2v1h-2zM281 67h2v1h-2zM284 67h3v1h-3zM288 67h3v1h-3zM295 67h1v1h-1zM299 67h3v1h-3zM304 67h2v1h-2zM307 67h4v1h-4zM312 67h1v1h-1zM315 67h2v1h-2zM320 67h2v1h-2zM323 67h3v1h-3zM329 67h1v1h-1zM331 67h4v1h-4zM338 67h1v1h-1zM342 67h1v1h-1zM344 67h1v1h-1zM347 67h3v1h-3zM351 67h1v1h-1zM353 67h1v1h-1zM355 67h2v1h-2zM358 67h5v1h-5zM364 67h2v1h-2zM368 67h1v1h-1zM372 67h1v1h-1zM375 67h1v1h-1zM377 67h1v1h-1zM379 67h1v1h-1zM383 67h5v1h-5zM390 67h1v1h-1zM393 67h1v1h-1zM396 67h6v1h-6zM404 67h1v1h-1zM409 67h2v1h-2zM417 67h1v1h-1zM419 67h1v1h-1zM422 67h2v1h-2zM425 67h1v1h-1zM427 67h3v1h-3zM431 67h1v1h-1zM434 67h1v1h-1zM438 67h1v1h-1zM441 67h1v1h-1zM443 67h1v1h-1zM446 67h4v1h-4zM453 67h3v1h-3zM457 67h8v1h-8zM470 67h3v1h-3zM475 67h1v1h-1zM478 67h1v1h-1zM480 67h1v1h-1zM482 67h1v1h-1zM485 67h1v1h-1zM488 67h4v1h-4zM493 67h2v1h-2zM497 67h2v1h-2zM500 67h1v1h-1zM502 67h2v1h-2zM507 67h2v1h-2zM515 67h1v1h-1zM518 67h1v1h-1zM520 67h1v1h-1zM523 67h5v1h-5zM531 67h3v1h-3zM535 67h2v1h-2zM539 67h2v1h-2zM544 67h2v1h-2zM549 67h2v1h-2zM553 67h1v1h-1zM555 67h1v1h-1zM557 67h3v1h-3zM561 67h1v1h-1zM563 67h2v1h-2zM567 67h1v1h-1zM569 67h1v1h-1zM572 67h2v1h-2zM691 67h1v1h-1zM695 67h1v1h-1zM699 67h1v1h-1zM701 67h2v1h-2zM706 67h1v1h-1zM708 67h1v1h-1zM710 67h1v1h-1zM712 67h4v1h-4zM720 67h4v1h-4zM725 67h1v1h-1zM728 67h1v1h-1zM730 67h1v1h-1zM733 67h8v1h-8zM742 67h1v1h-1zM744 67h1v1h-1zM746 67h1v1h-1zM748 67h10v1h-10zM760 67h1v1h-1zM762 67h1v1h-1zM764 67h4v1h-4zM771 67h2v1h-2zM775 67h3v1h-3zM781 67h2v1h-2zM787 67h1v1h-1zM789 67h2v1h-2zM792 67h5v1h-5zM798 67h3v1h-3zM803 67h1v1h-1zM805 67h1v1h-1zM807 67h1v1h-1zM810 67h1v1h-1zM812 67h1v1h-1zM814 67h6v1h-6zM821 67h1v1h-1zM823 67h1v1h-1zM825 67h1v1h-1zM827 67h5v1h-5zM833 67h5v1h-5zM841 67h2v1h-2zM846 67h2v1h-2zM850 67h1v1h-1zM852 67h4v1h-4zM859 67h2v1h-2zM862 67h1v1h-1zM865 67h1v1h-1zM869 67h2v1h-2zM876 67h1v1h-1zM878 67h2v1h-2zM882 67h2v1h-2zM887 67h1v1h-1zM889 67h3v1h-3zM893 67h1v1h-1zM896 67h1v1h-1zM898 67h7v1h-7zM906 67h3v1h-3zM910 67h2v1h-2zM97 66h1v1h-1zM103 66h1v1h-1zM106 66h1v1h-1zM109 66h1v1h-1zM112 66h1v1h-1zM115 66h1v1h-1zM125 66h2v1h-2zM131 66h1v1h-1zM136 66h1v1h-1zM138 66h1v1h-1zM140 66h1v1h-1zM148 66h1v1h-1zM164 66h1v1h-1zM169 66h1v1h-1zM172 66h2v1h-2zM175 66h1v1h-1zM179 66h1v1h-1zM184 66h1v1h-1zM198 66h1v1h-1zM206 66h1v1h-1zM209 66h1v1h-1zM212 66h1v1h-1zM218 66h1v1h-1zM221 66h1v1h-1zM229 66h1v1h-1zM232 66h1v1h-1zM234 66h2v1h-2zM237 66h1v1h-1zM240 66h1v1h-1zM243 66h1v1h-1zM254 66h1v1h-1zM267 66h1v1h-1zM269 66h2v1h-2zM278 66h1v1h-1zM281 66h1v1h-1zM283 66h2v1h-2zM288 66h1v1h-1zM292 66h1v1h-1zM299 66h1v1h-1zM302 66h2v1h-2zM305 66h1v1h-1zM314 66h1v1h-1zM319 66h1v1h-1zM321 66h1v1h-1zM328 66h1v1h-1zM330 66h1v1h-1zM335 66h3v1h-3zM340 66h2v1h-2zM346 66h1v1h-1zM348 66h2v1h-2zM353 66h1v1h-1zM366 66h1v1h-1zM370 66h1v1h-1zM374 66h2v1h-2zM380 66h3v1h-3zM389 66h1v1h-1zM396 66h3v1h-3zM405 66h1v1h-1zM421 66h1v1h-1zM433 66h1v1h-1zM435 66h1v1h-1zM439 66h1v1h-1zM442 66h1v1h-1zM448 66h1v1h-1zM450 66h1v1h-1zM452 66h1v1h-1zM454 66h1v1h-1zM456 66h1v1h-1zM467 66h1v1h-1zM471 66h1v1h-1zM477 66h1v1h-1zM487 66h1v1h-1zM489 66h2v1h-2zM496 66h2v1h-2zM503 66h1v1h-1zM506 66h5v1h-5zM512 66h1v1h-1zM514 66h1v1h-1zM516 66h3v1h-3zM525 66h2v1h-2zM534 66h1v1h-1zM542 66h1v1h-1zM544 66h4v1h-4zM552 66h1v1h-1zM556 66h1v1h-1zM560 66h1v1h-1zM565 66h1v1h-1zM567 66h1v1h-1zM573 66h1v1h-1zM580 66h1v1h-1zM583 66h1v1h-1zM585 66h1v1h-1zM592 66h2v1h-2zM596 66h1v1h-1zM602 66h2v1h-2zM611 66h1v1h-1zM614 66h2v1h-2zM618 66h7v1h-7zM627 66h1v1h-1zM630 66h1v1h-1zM636 66h1v1h-1zM657 66h1v1h-1zM660 66h4v1h-4zM666 66h1v1h-1zM669 66h2v1h-2zM673 66h1v1h-1zM675 66h2v1h-2zM684 66h2v1h-2zM688 66h4v1h-4zM694 66h1v1h-1zM698 66h1v1h-1zM706 66h2v1h-2zM712 66h1v1h-1zM714 66h2v1h-2zM721 66h1v1h-1zM723 66h2v1h-2zM728 66h2v1h-2zM732 66h1v1h-1zM747 66h1v1h-1zM758 66h2v1h-2zM761 66h1v1h-1zM764 66h1v1h-1zM769 66h1v1h-1zM775 66h1v1h-1zM784 66h1v1h-1zM786 66h1v1h-1zM799 66h1v1h-1zM802 66h2v1h-2zM806 66h2v1h-2zM809 66h1v1h-1zM812 66h1v1h-1zM820 66h1v1h-1zM830 66h4v1h-4zM837 66h1v1h-1zM839 66h1v1h-1zM845 66h2v1h-2zM848 66h1v1h-1zM852 66h1v1h-1zM855 66h4v1h-4zM865 66h1v1h-1zM867 66h1v1h-1zM869 66h1v1h-1zM888 66h2v1h-2zM893 66h2v1h-2zM896 66h2v1h-2zM901 66h1v1h-1zM909 66h1v1h-1zM912 66h1v1h-1zM115 65h1v1h-1zM118 65h1v1h-1zM152 65h1v1h-1zM222 65h1v1h-1zM283 65h1v1h-1zM319 65h1v1h-1zM325 65h1v1h-1zM330 65h1v1h-1zM339 65h1v1h-1zM345 65h2v1h-2zM354 65h1v1h-1zM374 65h1v1h-1zM380 65h1v1h-1zM442 65h1v1h-1zM467 65h1v1h-1zM496 65h1v1h-1zM506 65h4v1h-4zM517 65h1v1h-1zM556 65h1v1h-1zM565 65h2v1h-2zM582 65h1v1h-1zM592 65h1v1h-1zM602 65h2v1h-2zM611 65h2v1h-2zM614 65h1v1h-1zM621 65h2v1h-2zM624 65h2v1h-2zM627 65h1v1h-1zM630 65h2v1h-2zM652 65h1v1h-1zM654 65h1v1h-1zM657 65h1v1h-1zM661 65h1v1h-1zM663 65h1v1h-1zM665 65h2v1h-2zM674 65h1v1h-1zM689 65h1v1h-1zM695 65h1v1h-1zM698 65h1v1h-1zM703 65h1v1h-1zM708 65h1v1h-1zM710 65h2v1h-2zM714 65h1v1h-1zM724 65h1v1h-1zM769 65h1v1h-1zM774 65h1v1h-1zM806 65h1v1h-1zM809 65h1v1h-1zM815 65h1v1h-1zM856 65h1v1h-1zM888 65h1v1h-1zM234 64h1v1h-1zM328 64h1v1h-1zM435 64h1v1h-1zM496 64h1v1h-1zM512 64h1v1h-1zM596 64h2v1h-2zM611 64h2v1h-2zM614 64h1v1h-1zM618 64h1v1h-1zM622 64h4v1h-4zM627 64h1v1h-1zM629 64h2v1h-2zM651 64h2v1h-2zM654 64h1v1h-1zM657 64h2v1h-2zM660 64h1v1h-1zM662 64h2v1h-2zM666 64h1v1h-1zM670 64h1v1h-1zM770 64h1v1h-1zM801 64h1v1h-1zM125 63h1v1h-1zM339 63h1v1h-1zM354 63h1v1h-1zM596 63h2v1h-2zM615 63h1v1h-1zM622 63h1v1h-1zM624 63h2v1h-2zM627 63h1v1h-1zM630 63h2v1h-2zM651 63h2v1h-2zM654 63h2v1h-2zM657 63h2v1h-2zM661 63h1v1h-1zM663 63h1v1h-1zM665 63h1v1h-1zM670 63h1v1h-1zM673 63h1v1h-1zM704 63h1v1h-1zM724 63h1v1h-1zM339 62h1v1h-1zM354 62h1v1h-1zM504 62h2v1h-2zM565 62h1v1h-1zM611 62h1v1h-1zM614 62h1v1h-1zM622 62h4v1h-4zM627 62h1v1h-1zM629 62h3v1h-3zM635 62h2v1h-2zM651 62h2v1h-2zM658 62h1v1h-1zM660 62h2v1h-2zM666 62h1v1h-1zM696 62h1v1h-1zM820 62h1v1h-1zM894 62h1v1h-1zM566 61h1v1h-1zM597 61h1v1h-1zM615 61h1v1h-1zM621 61h2v1h-2zM626 61h1v1h-1zM630 61h2v1h-2zM635 61h1v1h-1zM638 61h1v1h-1zM651 61h2v1h-2zM654 61h1v1h-1zM657 61h1v1h-1zM659 61h1v1h-1zM661 61h3v1h-3zM665 61h1v1h-1zM669 61h1v1h-1zM673 61h2v1h-2zM704 61h1v1h-1zM724 61h1v1h-1zM283 60h1v1h-1zM517 60h1v1h-1zM596 60h1v1h-1zM611 60h1v1h-1zM615 60h1v1h-1zM624 60h4v1h-4zM629 60h1v1h-1zM631 60h2v1h-2zM635 60h2v1h-2zM638 60h1v1h-1zM651 60h1v1h-1zM654 60h1v1h-1zM657 60h3v1h-3zM661 60h3v1h-3zM665 60h3v1h-3zM670 60h1v1h-1zM673 60h2v1h-2zM704 60h1v1h-1zM806 60h1v1h-1zM354 59h1v1h-1zM467 59h1v1h-1zM517 59h1v1h-1zM565 59h1v1h-1zM596 59h1v1h-1zM614 59h2v1h-2zM624 59h2v1h-2zM629 59h3v1h-3zM636 59h1v1h-1zM638 59h1v1h-1zM651 59h2v1h-2zM657 59h2v1h-2zM660 59h4v1h-4zM665 59h1v1h-1zM670 59h1v1h-1zM674 59h1v1h-1zM806 59h1v1h-1zM596 58h1v1h-1zM615 58h1v1h-1zM624 58h3v1h-3zM631 58h1v1h-1zM635 58h4v1h-4zM646 58h1v1h-1zM652 58h1v1h-1zM654 58h2v1h-2zM658 58h1v1h-1zM660 58h1v1h-1zM663 58h1v1h-1zM670 58h1v1h-1zM674 58h1v1h-1zM615 57h1v1h-1zM626 57h1v1h-1zM629 57h1v1h-1zM635 57h4v1h-4zM640 57h3v1h-3zM645 57h1v1h-1zM651 57h2v1h-2zM654 57h1v1h-1zM657 57h4v1h-4zM662 57h1v1h-1zM666 57h1v1h-1zM674 57h1v1h-1zM615 56h1v1h-1zM625 56h2v1h-2zM629 56h1v1h-1zM631 56h2v1h-2zM635 56h4v1h-4zM640 56h1v1h-1zM642 56h1v1h-1zM651 56h2v1h-2zM654 56h1v1h-1zM658 56h1v1h-1zM660 56h2v1h-2zM663 56h1v1h-1zM625 55h2v1h-2zM631 55h2v1h-2zM635 55h4v1h-4zM642 55h1v1h-1zM644 55h1v1h-1zM646 55h1v1h-1zM651 55h2v1h-2zM654 55h1v1h-1zM659 55h1v1h-1zM661 55h1v1h-1zM626 54h1v1h-1zM632 54h1v1h-1zM635 54h2v1h-2zM638 54h1v1h-1zM640 54h1v1h-1zM642 54h1v1h-1zM644 54h1v1h-1zM651 54h2v1h-2zM654 54h4v1h-4zM659 54h2v1h-2zM635 53h1v1h-1zM637 53h2v1h-2zM641 53h2v1h-2zM646 53h1v1h-1zM651 53h2v1h-2zM654 53h1v1h-1zM656 53h1v1h-1zM660 53h2v1h-2zM663 53h1v1h-1zM632 52h4v1h-4zM637 52h1v1h-1zM639 52h2v1h-2zM644 52h3v1h-3zM651 52h1v1h-1zM653 52h3v1h-3zM660 52h1v1h-1zM666 52h1v1h-1zM634 51h2v1h-2zM639 51h2v1h-2zM646 51h1v1h-1zM649 51h1v1h-1zM651 51h1v1h-1zM653 51h2v1h-2zM656 51h1v1h-1zM658 51h2v1h-2zM666 51h1v1h-1zM633 50h3v1h-3zM639 50h5v1h-5zM645 50h2v1h-2zM651 50h1v1h-1zM653 50h1v1h-1zM656 50h1v1h-1zM659 50h1v1h-1zM633 49h2v1h-2zM639 49h1v1h-1zM643 49h2v1h-2zM646 49h2v1h-2zM649 49h1v1h-1zM651 49h1v1h-1zM654 49h3v1h-3zM660 49h1v1h-1zM643 48h1v1h-1zM647 48h3v1h-3zM653 48h1v1h-1zM656 48h1v1h-1zM633 47h2v1h-2zM643 47h1v1h-1zM645 47h1v1h-1zM647 47h4v1h-4zM653 47h1v1h-1zM655 47h1v1h-1zM640 46h1v1h-1zM647 46h4v1h-4zM653 46h1v1h-1zM656 46h1v1h-1zM659 46h1v1h-1zM648 45h3v1h-3zM653 45h1v1h-1zM497 44h1v1h-1zM499 44h2v1h-2zM502 44h2v1h-2zM505 44h2v1h-2zM509 44h1v1h-1zM513 44h1v1h-1zM516 44h1v1h-1zM518 44h1v1h-1zM648 44h1v1h-1zM655 44h1v1h-1zM498 43h1v1h-1zM501 43h4v1h-4zM506 43h1v1h-1zM508 43h3v1h-3zM517 43h1v1h-1zM643 43h1v1h-1zM650 43h1v1h-1zM653 43h1v1h-1zM655 43h1v1h-1zM498 42h1v1h-1zM501 42h3v1h-3zM509 42h1v1h-1zM516 42h2v1h-2zM649 42h2v1h-2zM649 41h1v1h-1zM517 17h1v1h-1zM520 17h1v1h-1zM528 17h1v1h-1zM531 17h1v1h-1zM516 16h2v1h-2z"/><path fill="#008aff" d="M102 69h1v1h-1zM105 69h1v1h-1zM151 69h1v1h-1zM153 69h1v1h-1zM178 69h1v1h-1zM197 69h1v1h-1zM238 69h1v1h-1zM248 69h1v1h-1zM260 69h1v1h-1zM263 69h1v1h-1zM279 69h1v1h-1zM282 69h1v1h-1zM332 69h1v1h-1zM357 69h1v1h-1zM391 69h2v1h-2zM406 69h1v1h-1zM445 69h1v1h-1zM465 69h1v1h-1zM473 69h1v1h-1zM509 69h1v1h-1zM709 69h1v1h-1zM726 69h1v1h-1zM739 69h1v1h-1zM741 69h1v1h-1zM753 69h1v1h-1zM791 69h1v1h-1zM804 69h1v1h-1zM813 69h1v1h-1zM96 68h1v1h-1zM99 68h1v1h-1zM101 68h2v1h-2zM104 68h2v1h-2zM108 68h1v1h-1zM110 68h2v1h-2zM113 68h1v1h-1zM117 68h1v1h-1zM119 68h1v1h-1zM122 68h1v1h-1zM130 68h1v1h-1zM133 68h2v1h-2zM144 68h1v1h-1zM155 68h1v1h-1zM158 68h1v1h-1zM161 68h1v1h-1zM163 68h1v1h-1zM166 68h3v1h-3zM170 68h2v1h-2zM173 68h2v1h-2zM178 68h1v1h-1zM187 68h1v1h-1zM191 68h4v1h-4zM197 68h1v1h-1zM200 68h3v1h-3zM205 68h1v1h-1zM216 68h1v1h-1zM222 68h3v1h-3zM226 68h2v1h-2zM233 68h1v1h-1zM236 68h1v1h-1zM238 68h2v1h-2zM244 68h2v1h-2zM252 68h1v1h-1zM255 68h1v1h-1zM260 68h1v1h-1zM263 68h1v1h-1zM265 68h1v1h-1zM282 68h1v1h-1zM284 68h7v1h-7zM296 68h2v1h-2zM301 68h1v1h-1zM310 68h1v1h-1zM312 68h1v1h-1zM315 68h1v1h-1zM317 68h2v1h-2zM320 68h1v1h-1zM322 68h1v1h-1zM326 68h1v1h-1zM331 68h3v1h-3zM342 68h2v1h-2zM347 68h1v1h-1zM350 68h4v1h-4zM357 68h2v1h-2zM365 68h1v1h-1zM371 68h1v1h-1zM374 68h1v1h-1zM376 68h1v1h-1zM378 68h2v1h-2zM383 68h3v1h-3zM387 68h2v1h-2zM390 68h1v1h-1zM395 68h1v1h-1zM397 68h2v1h-2zM400 68h1v1h-1zM402 68h1v1h-1zM404 68h1v1h-1zM406 68h1v1h-1zM409 68h1v1h-1zM414 68h3v1h-3zM419 68h2v1h-2zM423 68h1v1h-1zM428 68h1v1h-1zM431 68h2v1h-2zM437 68h1v1h-1zM443 68h2v1h-2zM453 68h1v1h-1zM455 68h1v1h-1zM462 68h1v1h-1zM464 68h1v1h-1zM473 68h4v1h-4zM480 68h1v1h-1zM482 68h1v1h-1zM488 68h1v1h-1zM494 68h1v1h-1zM498 68h1v1h-1zM501 68h1v1h-1zM506 68h1v1h-1zM509 68h1v1h-1zM512 68h1v1h-1zM514 68h2v1h-2zM519 68h1v1h-1zM522 68h1v1h-1zM527 68h1v1h-1zM530 68h1v1h-1zM532 68h1v1h-1zM535 68h1v1h-1zM537 68h1v1h-1zM540 68h2v1h-2zM543 68h1v1h-1zM553 68h2v1h-2zM559 68h1v1h-1zM562 68h1v1h-1zM564 68h1v1h-1zM567 68h1v1h-1zM570 68h2v1h-2zM573 68h1v1h-1zM696 68h1v1h-1zM701 68h2v1h-2zM705 68h2v1h-2zM709 68h1v1h-1zM716 68h4v1h-4zM721 68h2v1h-2zM726 68h1v1h-1zM728 68h1v1h-1zM733 68h1v1h-1zM739 68h1v1h-1zM742 68h1v1h-1zM750 68h1v1h-1zM752 68h2v1h-2zM755 68h2v1h-2zM759 68h3v1h-3zM778 68h2v1h-2zM788 68h1v1h-1zM791 68h1v1h-1zM793 68h2v1h-2zM796 68h1v1h-1zM800 68h1v1h-1zM803 68h2v1h-2zM808 68h1v1h-1zM810 68h1v1h-1zM818 68h1v1h-1zM821 68h3v1h-3zM826 68h1v1h-1zM828 68h1v1h-1zM834 68h2v1h-2zM838 68h1v1h-1zM840 68h1v1h-1zM845 68h1v1h-1zM849 68h1v1h-1zM853 68h1v1h-1zM863 68h1v1h-1zM870 68h3v1h-3zM874 68h1v1h-1zM880 68h4v1h-4zM885 68h1v1h-1zM887 68h1v1h-1zM889 68h1v1h-1zM891 68h1v1h-1zM903 68h1v1h-1zM97 67h1v1h-1zM104 67h1v1h-1zM106 67h2v1h-2zM109 67h1v1h-1zM116 67h1v1h-1zM118 67h1v1h-1zM125 67h2v1h-2zM128 67h1v1h-1zM131 67h1v1h-1zM135 67h1v1h-1zM138 67h1v1h-1zM142 67h2v1h-2zM149 67h1v1h-1zM157 67h1v1h-1zM159 67h1v1h-1zM164 67h1v1h-1zM179 67h1v1h-1zM181 67h1v1h-1zM187 67h1v1h-1zM189 67h1v1h-1zM191 67h1v1h-1zM207 67h3v1h-3zM211 67h3v1h-3zM223 67h1v1h-1zM228 67h1v1h-1zM234 67h2v1h-2zM260 67h1v1h-1zM267 67h2v1h-2zM270 67h3v1h-3zM274 67h1v1h-1zM277 67h1v1h-1zM280 67h1v1h-1zM283 67h1v1h-1zM287 67h1v1h-1zM291 67h3v1h-3zM298 67h1v1h-1zM302 67h2v1h-2zM306 67h1v1h-1zM314 67h1v1h-1zM319 67h1v1h-1zM328 67h1v1h-1zM330 67h1v1h-1zM335 67h3v1h-3zM340 67h2v1h-2zM345 67h2v1h-2zM354 67h1v1h-1zM366 67h2v1h-2zM369 67h2v1h-2zM373 67h2v1h-2zM380 67h3v1h-3zM389 67h1v1h-1zM405 67h1v1h-1zM412 67h1v1h-1zM415 67h1v1h-1zM418 67h1v1h-1zM421 67h1v1h-1zM424 67h1v1h-1zM426 67h1v1h-1zM433 67h1v1h-1zM435 67h2v1h-2zM439 67h2v1h-2zM442 67h1v1h-1zM450 67h1v1h-1zM452 67h1v1h-1zM468 67h1v1h-1zM476 67h2v1h-2zM484 67h1v1h-1zM486 67h2v1h-2zM492 67h1v1h-1zM495 67h1v1h-1zM506 67h1v1h-1zM509 67h6v1h-6zM516 67h1v1h-1zM528 67h2v1h-2zM534 67h1v1h-1zM538 67h1v1h-1zM542 67h1v1h-1zM546 67h1v1h-1zM551 67h2v1h-2zM556 67h1v1h-1zM560 67h1v1h-1zM565 67h2v1h-2zM568 67h1v1h-1zM652 67h1v1h-1zM657 67h2v1h-2zM662 67h1v1h-1zM664 67h2v1h-2zM667 67h2v1h-2zM672 67h1v1h-1zM676 67h3v1h-3zM680 67h2v1h-2zM683 67h2v1h-2zM686 67h1v1h-1zM689 67h1v1h-1zM692 67h3v1h-3zM696 67h3v1h-3zM700 67h1v1h-1zM703 67h2v1h-2zM707 67h1v1h-1zM711 67h1v1h-1zM724 67h1v1h-1zM727 67h1v1h-1zM729 67h1v1h-1zM731 67h1v1h-1zM745 67h1v1h-1zM747 67h1v1h-1zM758 67h2v1h-2zM761 67h1v1h-1zM763 67h1v1h-1zM768 67h3v1h-3zM773 67h2v1h-2zM783 67h1v1h-1zM786 67h1v1h-1zM797 67h1v1h-1zM801 67h2v1h-2zM809 67h1v1h-1zM820 67h1v1h-1zM832 67h1v1h-1zM839 67h1v1h-1zM843 67h2v1h-2zM848 67h1v1h-1zM856 67h2v1h-2zM864 67h1v1h-1zM866 67h3v1h-3zM873 67h2v1h-2zM877 67h1v1h-1zM880 67h1v1h-1zM888 67h1v1h-1zM892 67h1v1h-1zM894 67h2v1h-2zM897 67h1v1h-1zM905 67h1v1h-1zM909 67h1v1h-1zM912 67h1v1h-1zM107 66h1v1h-1zM207 66h1v1h-1zM241 66h1v1h-1zM307 66h1v1h-1zM339 66h1v1h-1zM354 66h1v1h-1zM423 66h1v1h-1zM434 66h1v1h-1zM492 66h1v1h-1zM511 66h1v1h-1zM513 66h1v1h-1zM568 66h1v1h-1zM597 66h1v1h-1zM625 66h2v1h-2zM629 66h1v1h-1zM631 66h1v1h-1zM633 66h1v1h-1zM635 66h1v1h-1zM637 66h1v1h-1zM651 66h3v1h-3zM655 66h2v1h-2zM658 66h2v1h-2zM674 66h1v1h-1zM695 66h2v1h-2zM703 66h1v1h-1zM711 66h1v1h-1zM125 65h1v1h-1zM510 65h1v1h-1zM615 65h1v1h-1zM629 65h1v1h-1zM632 65h1v1h-1zM636 65h2v1h-2zM651 65h1v1h-1zM653 65h1v1h-1zM656 65h1v1h-1zM659 65h2v1h-2zM670 65h1v1h-1zM615 64h1v1h-1zM626 64h1v1h-1zM631 64h2v1h-2zM634 64h5v1h-5zM646 64h2v1h-2zM653 64h1v1h-1zM655 64h2v1h-2zM659 64h1v1h-1zM674 64h1v1h-1zM505 63h1v1h-1zM626 63h1v1h-1zM629 63h1v1h-1zM632 63h1v1h-1zM635 63h4v1h-4zM646 63h2v1h-2zM650 63h1v1h-1zM653 63h1v1h-1zM656 63h1v1h-1zM659 63h2v1h-2zM674 63h1v1h-1zM615 62h1v1h-1zM626 62h1v1h-1zM632 62h1v1h-1zM637 62h2v1h-2zM646 62h1v1h-1zM649 62h2v1h-2zM653 62h4v1h-4zM659 62h1v1h-1zM663 62h1v1h-1zM670 62h1v1h-1zM674 62h1v1h-1zM625 61h1v1h-1zM629 61h1v1h-1zM632 61h1v1h-1zM636 61h2v1h-2zM639 61h1v1h-1zM645 61h3v1h-3zM649 61h1v1h-1zM653 61h1v1h-1zM655 61h2v1h-2zM660 61h1v1h-1zM637 60h1v1h-1zM639 60h1v1h-1zM644 60h4v1h-4zM649 60h1v1h-1zM652 60h2v1h-2zM655 60h2v1h-2zM660 60h1v1h-1zM626 59h1v1h-1zM632 59h1v1h-1zM635 59h1v1h-1zM637 59h1v1h-1zM639 59h8v1h-8zM649 59h1v1h-1zM653 59h4v1h-4zM659 59h1v1h-1zM632 58h3v1h-3zM639 58h4v1h-4zM644 58h2v1h-2zM647 58h1v1h-1zM649 58h1v1h-1zM653 58h1v1h-1zM656 58h1v1h-1zM659 58h1v1h-1zM632 57h3v1h-3zM639 57h1v1h-1zM644 57h1v1h-1zM646 57h2v1h-2zM650 57h1v1h-1zM653 57h1v1h-1zM655 57h2v1h-2zM634 56h1v1h-1zM639 56h1v1h-1zM641 56h1v1h-1zM643 56h5v1h-5zM650 56h1v1h-1zM653 56h1v1h-1zM655 56h2v1h-2zM633 55h2v1h-2zM639 55h2v1h-2zM645 55h1v1h-1zM647 55h2v1h-2zM650 55h1v1h-1zM653 55h1v1h-1zM655 55h2v1h-2zM633 54h2v1h-2zM639 54h1v1h-1zM641 54h1v1h-1zM643 54h1v1h-1zM645 54h6v1h-6zM653 54h1v1h-1zM633 53h2v1h-2zM639 53h2v1h-2zM643 53h3v1h-3zM647 53h4v1h-4zM653 53h1v1h-1zM655 53h1v1h-1zM659 53h1v1h-1zM641 52h1v1h-1zM643 52h1v1h-1zM647 52h3v1h-3zM656 52h1v1h-1zM633 51h1v1h-1zM643 51h3v1h-3zM647 51h2v1h-2zM650 51h1v1h-1zM655 51h1v1h-1zM647 50h4v1h-4zM655 50h1v1h-1zM645 49h1v1h-1zM648 49h1v1h-1zM650 49h1v1h-1zM517 44h1v1h-1z"/><path fill="#00a0ff" d="M96 69h2v1h-2zM99 69h1v1h-1zM101 69h1v1h-1zM108 69h1v1h-1zM111 69h1v1h-1zM113 69h1v1h-1zM119 69h1v1h-1zM121 69h1v1h-1zM129 69h2v1h-2zM133 69h2v1h-2zM137 69h3v1h-3zM144 69h1v1h-1zM152 69h1v1h-1zM155 69h2v1h-2zM160 69h1v1h-1zM163 69h1v1h-1zM165 69h3v1h-3zM170 69h1v1h-1zM175 69h1v1h-1zM177 69h1v1h-1zM180 69h1v1h-1zM182 69h1v1h-1zM187 69h1v1h-1zM191 69h2v1h-2zM194 69h1v1h-1zM196 69h1v1h-1zM198 69h1v1h-1zM201 69h2v1h-2zM205 69h1v1h-1zM215 69h1v1h-1zM217 69h1v1h-1zM224 69h4v1h-4zM230 69h3v1h-3zM236 69h2v1h-2zM239 69h1v1h-1zM244 69h3v1h-3zM249 69h1v1h-1zM252 69h1v1h-1zM255 69h2v1h-2zM259 69h1v1h-1zM265 69h3v1h-3zM285 69h1v1h-1zM296 69h2v1h-2zM300 69h1v1h-1zM304 69h1v1h-1zM306 69h1v1h-1zM308 69h3v1h-3zM312 69h1v1h-1zM317 69h2v1h-2zM320 69h1v1h-1zM322 69h3v1h-3zM326 69h2v1h-2zM333 69h1v1h-1zM343 69h1v1h-1zM347 69h1v1h-1zM355 69h1v1h-1zM360 69h1v1h-1zM363 69h1v1h-1zM368 69h1v1h-1zM371 69h1v1h-1zM376 69h4v1h-4zM383 69h1v1h-1zM385 69h1v1h-1zM388 69h1v1h-1zM390 69h1v1h-1zM395 69h1v1h-1zM400 69h1v1h-1zM407 69h3v1h-3zM413 69h2v1h-2zM416 69h1v1h-1zM419 69h2v1h-2zM432 69h1v1h-1zM443 69h2v1h-2zM451 69h1v1h-1zM455 69h1v1h-1zM461 69h1v1h-1zM472 69h1v1h-1zM474 69h3v1h-3zM479 69h1v1h-1zM481 69h3v1h-3zM494 69h2v1h-2zM497 69h1v1h-1zM499 69h1v1h-1zM502 69h1v1h-1zM506 69h1v1h-1zM510 69h2v1h-2zM513 69h3v1h-3zM519 69h3v1h-3zM525 69h1v1h-1zM530 69h1v1h-1zM535 69h3v1h-3zM548 69h2v1h-2zM551 69h1v1h-1zM554 69h1v1h-1zM558 69h2v1h-2zM561 69h1v1h-1zM563 69h2v1h-2zM569 69h4v1h-4zM661 69h1v1h-1zM664 69h1v1h-1zM676 69h1v1h-1zM691 69h1v1h-1zM693 69h1v1h-1zM695 69h2v1h-2zM698 69h1v1h-1zM702 69h1v1h-1zM705 69h1v1h-1zM710 69h1v1h-1zM716 69h2v1h-2zM719 69h1v1h-1zM721 69h1v1h-1zM732 69h1v1h-1zM735 69h1v1h-1zM742 69h3v1h-3zM748 69h1v1h-1zM752 69h1v1h-1zM756 69h1v1h-1zM760 69h1v1h-1zM764 69h1v1h-1zM776 69h1v1h-1zM778 69h2v1h-2zM781 69h3v1h-3zM787 69h4v1h-4zM795 69h2v1h-2zM798 69h1v1h-1zM808 69h1v1h-1zM810 69h1v1h-1zM821 69h2v1h-2zM825 69h2v1h-2zM831 69h1v1h-1zM834 69h1v1h-1zM845 69h1v1h-1zM850 69h2v1h-2zM853 69h1v1h-1zM859 69h1v1h-1zM861 69h1v1h-1zM863 69h1v1h-1zM868 69h1v1h-1zM871 69h4v1h-4zM876 69h1v1h-1zM879 69h1v1h-1zM881 69h2v1h-2zM885 69h2v1h-2zM889 69h2v1h-2zM892 69h1v1h-1zM896 69h1v1h-1zM900 69h1v1h-1zM903 69h1v1h-1zM908 69h2v1h-2zM911 69h1v1h-1zM98 68h1v1h-1zM100 68h1v1h-1zM103 68h1v1h-1zM107 68h1v1h-1zM109 68h1v1h-1zM114 68h1v1h-1zM120 68h2v1h-2zM123 68h1v1h-1zM125 68h3v1h-3zM129 68h1v1h-1zM131 68h2v1h-2zM135 68h9v1h-9zM145 68h3v1h-3zM149 68h3v1h-3zM154 68h1v1h-1zM156 68h2v1h-2zM159 68h1v1h-1zM162 68h1v1h-1zM164 68h2v1h-2zM169 68h1v1h-1zM175 68h3v1h-3zM180 68h4v1h-4zM186 68h1v1h-1zM189 68h2v1h-2zM195 68h2v1h-2zM198 68h1v1h-1zM203 68h2v1h-2zM206 68h3v1h-3zM211 68h1v1h-1zM214 68h2v1h-2zM217 68h5v1h-5zM228 68h3v1h-3zM232 68h1v1h-1zM237 68h1v1h-1zM240 68h4v1h-4zM246 68h1v1h-1zM249 68h1v1h-1zM253 68h2v1h-2zM257 68h3v1h-3zM261 68h2v1h-2zM264 68h1v1h-1zM266 68h12v1h-12zM279 68h2v1h-2zM291 68h5v1h-5zM298 68h3v1h-3zM303 68h4v1h-4zM313 68h1v1h-1zM316 68h1v1h-1zM319 68h1v1h-1zM321 68h1v1h-1zM323 68h3v1h-3zM327 68h1v1h-1zM329 68h2v1h-2zM334 68h2v1h-2zM338 68h1v1h-1zM340 68h1v1h-1zM344 68h1v1h-1zM348 68h2v1h-2zM355 68h2v1h-2zM359 68h6v1h-6zM366 68h1v1h-1zM368 68h2v1h-2zM372 68h2v1h-2zM375 68h1v1h-1zM377 68h1v1h-1zM381 68h2v1h-2zM386 68h1v1h-1zM389 68h1v1h-1zM392 68h3v1h-3zM396 68h1v1h-1zM399 68h1v1h-1zM401 68h1v1h-1zM410 68h2v1h-2zM413 68h1v1h-1zM417 68h2v1h-2zM422 68h1v1h-1zM424 68h4v1h-4zM429 68h2v1h-2zM434 68h1v1h-1zM436 68h1v1h-1zM438 68h1v1h-1zM441 68h2v1h-2zM445 68h5v1h-5zM451 68h1v1h-1zM454 68h1v1h-1zM456 68h5v1h-5zM466 68h1v1h-1zM468 68h5v1h-5zM477 68h3v1h-3zM485 68h1v1h-1zM487 68h1v1h-1zM491 68h1v1h-1zM493 68h1v1h-1zM495 68h3v1h-3zM499 68h2v1h-2zM502 68h2v1h-2zM507 68h2v1h-2zM510 68h2v1h-2zM513 68h1v1h-1zM518 68h1v1h-1zM520 68h2v1h-2zM523 68h2v1h-2zM526 68h1v1h-1zM528 68h2v1h-2zM531 68h1v1h-1zM534 68h1v1h-1zM536 68h1v1h-1zM538 68h2v1h-2zM542 68h1v1h-1zM544 68h3v1h-3zM548 68h4v1h-4zM555 68h1v1h-1zM557 68h2v1h-2zM560 68h1v1h-1zM563 68h1v1h-1zM566 68h1v1h-1zM569 68h1v1h-1zM572 68h1v1h-1zM657 68h3v1h-3zM661 68h2v1h-2zM665 68h1v1h-1zM667 68h1v1h-1zM669 68h1v1h-1zM671 68h3v1h-3zM676 68h2v1h-2zM680 68h5v1h-5zM686 68h2v1h-2zM689 68h7v1h-7zM698 68h3v1h-3zM707 68h2v1h-2zM710 68h1v1h-1zM712 68h1v1h-1zM714 68h2v1h-2zM720 68h1v1h-1zM723 68h1v1h-1zM725 68h1v1h-1zM729 68h1v1h-1zM731 68h2v1h-2zM735 68h4v1h-4zM740 68h1v1h-1zM743 68h1v1h-1zM745 68h1v1h-1zM747 68h1v1h-1zM749 68h1v1h-1zM751 68h1v1h-1zM754 68h1v1h-1zM763 68h6v1h-6zM770 68h1v1h-1zM773 68h1v1h-1zM776 68h2v1h-2zM780 68h1v1h-1zM783 68h5v1h-5zM789 68h2v1h-2zM795 68h1v1h-1zM805 68h1v1h-1zM807 68h1v1h-1zM811 68h4v1h-4zM816 68h2v1h-2zM819 68h1v1h-1zM824 68h2v1h-2zM827 68h1v1h-1zM829 68h2v1h-2zM832 68h1v1h-1zM836 68h2v1h-2zM839 68h1v1h-1zM841 68h2v1h-2zM844 68h1v1h-1zM846 68h3v1h-3zM850 68h2v1h-2zM854 68h7v1h-7zM862 68h1v1h-1zM864 68h1v1h-1zM866 68h1v1h-1zM868 68h2v1h-2zM873 68h1v1h-1zM875 68h5v1h-5zM890 68h1v1h-1zM892 68h1v1h-1zM895 68h2v1h-2zM898 68h1v1h-1zM900 68h3v1h-3zM904 68h3v1h-3zM908 68h2v1h-2zM911 68h2v1h-2zM124 67h1v1h-1zM172 67h1v1h-1zM247 67h1v1h-1zM269 67h1v1h-1zM339 67h1v1h-1zM467 67h1v1h-1zM496 67h1v1h-1zM517 67h1v1h-1zM547 67h1v1h-1zM654 67h3v1h-3zM659 67h3v1h-3zM663 67h1v1h-1zM666 67h1v1h-1zM669 67h3v1h-3zM673 67h1v1h-1zM675 67h1v1h-1zM679 67h1v1h-1zM682 67h1v1h-1zM685 67h1v1h-1zM687 67h2v1h-2zM690 67h1v1h-1zM806 67h1v1h-1zM858 67h1v1h-1zM884 67h1v1h-1zM632 66h1v1h-1zM634 66h1v1h-1zM638 66h1v1h-1zM646 66h5v1h-5zM654 66h1v1h-1zM626 65h1v1h-1zM633 65h3v1h-3zM638 65h1v1h-1zM646 65h5v1h-5zM655 65h1v1h-1zM633 64h1v1h-1zM648 64h3v1h-3zM504 63h1v1h-1zM633 63h2v1h-2zM648 63h2v1h-2zM633 62h2v1h-2zM639 62h1v1h-1zM645 62h1v1h-1zM647 62h2v1h-2zM633 61h2v1h-2zM640 61h5v1h-5zM648 61h1v1h-1zM650 61h1v1h-1zM633 60h2v1h-2zM640 60h4v1h-4zM648 60h1v1h-1zM650 60h1v1h-1zM633 59h2v1h-2zM647 59h2v1h-2zM650 59h1v1h-1zM643 58h1v1h-1zM648 58h1v1h-1zM650 58h1v1h-1zM643 57h1v1h-1zM648 57h2v1h-2zM633 56h1v1h-1zM648 56h2v1h-2zM643 55h1v1h-1zM649 55h1v1h-1zM650 52h1v1h-1z"/><path fill="#00b6ff" d="M98 69h1v1h-1zM100 69h1v1h-1zM104 69h1v1h-1zM106 69h1v1h-1zM109 69h2v1h-2zM112 69h1v1h-1zM116 69h3v1h-3zM120 69h1v1h-1zM122 69h2v1h-2zM126 69h3v1h-3zM131 69h2v1h-2zM135 69h2v1h-2zM140 69h2v1h-2zM145 69h4v1h-4zM150 69h1v1h-1zM157 69h3v1h-3zM161 69h2v1h-2zM164 69h1v1h-1zM168 69h2v1h-2zM171 69h4v1h-4zM176 69h1v1h-1zM179 69h1v1h-1zM181 69h1v1h-1zM183 69h4v1h-4zM189 69h2v1h-2zM193 69h1v1h-1zM195 69h1v1h-1zM199 69h2v1h-2zM203 69h2v1h-2zM208 69h2v1h-2zM211 69h1v1h-1zM214 69h1v1h-1zM216 69h1v1h-1zM218 69h4v1h-4zM228 69h2v1h-2zM233 69h1v1h-1zM241 69h3v1h-3zM247 69h1v1h-1zM253 69h2v1h-2zM257 69h2v1h-2zM261 69h2v1h-2zM264 69h1v1h-1zM269 69h4v1h-4zM275 69h4v1h-4zM280 69h2v1h-2zM283 69h2v1h-2zM286 69h6v1h-6zM293 69h3v1h-3zM298 69h2v1h-2zM301 69h1v1h-1zM303 69h1v1h-1zM305 69h1v1h-1zM307 69h1v1h-1zM311 69h1v1h-1zM313 69h1v1h-1zM315 69h2v1h-2zM319 69h1v1h-1zM321 69h1v1h-1zM325 69h1v1h-1zM329 69h3v1h-3zM334 69h1v1h-1zM336 69h2v1h-2zM342 69h1v1h-1zM344 69h3v1h-3zM348 69h6v1h-6zM356 69h1v1h-1zM358 69h2v1h-2zM361 69h2v1h-2zM364 69h1v1h-1zM366 69h2v1h-2zM372 69h3v1h-3zM380 69h3v1h-3zM384 69h1v1h-1zM386 69h2v1h-2zM393 69h2v1h-2zM397 69h3v1h-3zM401 69h4v1h-4zM410 69h2v1h-2zM415 69h1v1h-1zM417 69h2v1h-2zM422 69h10v1h-10zM433 69h1v1h-1zM436 69h6v1h-6zM446 69h2v1h-2zM449 69h2v1h-2zM453 69h2v1h-2zM456 69h5v1h-5zM462 69h3v1h-3zM466 69h1v1h-1zM469 69h3v1h-3zM477 69h2v1h-2zM480 69h1v1h-1zM485 69h7v1h-7zM493 69h1v1h-1zM498 69h1v1h-1zM500 69h2v1h-2zM503 69h1v1h-1zM507 69h2v1h-2zM516 69h1v1h-1zM522 69h3v1h-3zM526 69h4v1h-4zM531 69h3v1h-3zM538 69h4v1h-4zM543 69h3v1h-3zM547 69h1v1h-1zM552 69h2v1h-2zM556 69h2v1h-2zM560 69h1v1h-1zM567 69h2v1h-2zM573 69h1v1h-1zM652 69h3v1h-3zM657 69h4v1h-4zM662 69h2v1h-2zM666 69h1v1h-1zM668 69h1v1h-1zM671 69h2v1h-2zM675 69h1v1h-1zM677 69h5v1h-5zM683 69h7v1h-7zM692 69h1v1h-1zM694 69h1v1h-1zM697 69h1v1h-1zM699 69h3v1h-3zM704 69h1v1h-1zM706 69h2v1h-2zM711 69h3v1h-3zM715 69h1v1h-1zM718 69h1v1h-1zM720 69h1v1h-1zM722 69h4v1h-4zM727 69h5v1h-5zM733 69h2v1h-2zM736 69h3v1h-3zM740 69h1v1h-1zM745 69h3v1h-3zM749 69h2v1h-2zM754 69h2v1h-2zM757 69h3v1h-3zM761 69h3v1h-3zM765 69h4v1h-4zM771 69h3v1h-3zM775 69h1v1h-1zM777 69h1v1h-1zM780 69h1v1h-1zM784 69h3v1h-3zM793 69h2v1h-2zM797 69h1v1h-1zM800 69h1v1h-1zM803 69h1v1h-1zM805 69h1v1h-1zM807 69h1v1h-1zM809 69h1v1h-1zM811 69h2v1h-2zM814 69h1v1h-1zM816 69h4v1h-4zM823 69h2v1h-2zM827 69h2v1h-2zM830 69h1v1h-1zM832 69h2v1h-2zM835 69h4v1h-4zM840 69h2v1h-2zM843 69h2v1h-2zM848 69h2v1h-2zM852 69h1v1h-1zM854 69h1v1h-1zM857 69h2v1h-2zM860 69h1v1h-1zM862 69h1v1h-1zM864 69h4v1h-4zM869 69h2v1h-2zM875 69h1v1h-1zM877 69h2v1h-2zM883 69h2v1h-2zM887 69h1v1h-1zM893 69h1v1h-1zM899 69h1v1h-1zM901 69h2v1h-2zM904 69h4v1h-4zM910 69h1v1h-1zM97 68h1v1h-1zM106 68h1v1h-1zM112 68h1v1h-1zM115 68h2v1h-2zM118 68h1v1h-1zM124 68h1v1h-1zM148 68h1v1h-1zM152 68h1v1h-1zM179 68h1v1h-1zM184 68h2v1h-2zM188 68h1v1h-1zM199 68h1v1h-1zM209 68h2v1h-2zM212 68h2v1h-2zM234 68h2v1h-2zM247 68h1v1h-1zM250 68h2v1h-2zM278 68h1v1h-1zM281 68h1v1h-1zM283 68h1v1h-1zM302 68h1v1h-1zM307 68h2v1h-2zM314 68h1v1h-1zM328 68h1v1h-1zM336 68h2v1h-2zM339 68h1v1h-1zM341 68h1v1h-1zM345 68h2v1h-2zM354 68h1v1h-1zM367 68h1v1h-1zM370 68h1v1h-1zM380 68h1v1h-1zM405 68h1v1h-1zM412 68h1v1h-1zM421 68h1v1h-1zM433 68h1v1h-1zM435 68h1v1h-1zM440 68h1v1h-1zM450 68h1v1h-1zM452 68h1v1h-1zM461 68h1v1h-1zM467 68h1v1h-1zM484 68h1v1h-1zM486 68h1v1h-1zM489 68h2v1h-2zM492 68h1v1h-1zM516 68h2v1h-2zM525 68h1v1h-1zM547 68h1v1h-1zM552 68h1v1h-1zM556 68h1v1h-1zM565 68h1v1h-1zM568 68h1v1h-1zM651 68h6v1h-6zM660 68h1v1h-1zM663 68h2v1h-2zM666 68h1v1h-1zM668 68h1v1h-1zM670 68h1v1h-1zM674 68h2v1h-2zM678 68h2v1h-2zM685 68h1v1h-1zM688 68h1v1h-1zM697 68h1v1h-1zM703 68h2v1h-2zM713 68h1v1h-1zM724 68h1v1h-1zM727 68h1v1h-1zM734 68h1v1h-1zM744 68h1v1h-1zM746 68h1v1h-1zM748 68h1v1h-1zM757 68h2v1h-2zM762 68h1v1h-1zM769 68h1v1h-1zM771 68h2v1h-2zM774 68h2v1h-2zM792 68h1v1h-1zM797 68h3v1h-3zM801 68h2v1h-2zM809 68h1v1h-1zM815 68h1v1h-1zM820 68h1v1h-1zM831 68h1v1h-1zM833 68h1v1h-1zM843 68h1v1h-1zM852 68h1v1h-1zM865 68h1v1h-1zM867 68h1v1h-1zM884 68h1v1h-1zM888 68h1v1h-1zM893 68h2v1h-2zM899 68h1v1h-1zM907 68h1v1h-1zM910 68h1v1h-1zM575 67h5v1h-5zM582 67h1v1h-1zM584 67h2v1h-2zM588 67h1v1h-1zM593 67h2v1h-2zM602 67h2v1h-2zM610 67h1v1h-1zM628 67h1v1h-1zM649 67h3v1h-3zM653 67h1v1h-1zM674 67h1v1h-1zM504 64h2v1h-2zM639 64h1v1h-1zM639 63h1v1h-1zM645 63h1v1h-1zM640 62h5v1h-5z"/><path fill="#00ccff" d="M103 69h1v1h-1zM107 69h1v1h-1zM114 69h2v1h-2zM124 69h2v1h-2zM142 69h2v1h-2zM149 69h1v1h-1zM154 69h1v1h-1zM188 69h1v1h-1zM206 69h2v1h-2zM210 69h1v1h-1zM212 69h2v1h-2zM222 69h2v1h-2zM234 69h2v1h-2zM240 69h1v1h-1zM250 69h2v1h-2zM268 69h1v1h-1zM273 69h2v1h-2zM292 69h1v1h-1zM302 69h1v1h-1zM314 69h1v1h-1zM328 69h1v1h-1zM335 69h1v1h-1zM338 69h4v1h-4zM365 69h1v1h-1zM369 69h2v1h-2zM375 69h1v1h-1zM389 69h1v1h-1zM396 69h1v1h-1zM405 69h1v1h-1zM412 69h1v1h-1zM421 69h1v1h-1zM435 69h1v1h-1zM442 69h1v1h-1zM448 69h1v1h-1zM452 69h1v1h-1zM467 69h2v1h-2zM484 69h1v1h-1zM496 69h1v1h-1zM512 69h1v1h-1zM517 69h2v1h-2zM542 69h1v1h-1zM546 69h1v1h-1zM550 69h1v1h-1zM555 69h1v1h-1zM562 69h1v1h-1zM565 69h2v1h-2zM647 69h1v1h-1zM649 69h3v1h-3zM655 69h2v1h-2zM665 69h1v1h-1zM667 69h1v1h-1zM669 69h2v1h-2zM673 69h1v1h-1zM682 69h1v1h-1zM690 69h1v1h-1zM703 69h1v1h-1zM708 69h1v1h-1zM714 69h1v1h-1zM751 69h1v1h-1zM769 69h2v1h-2zM774 69h1v1h-1zM792 69h1v1h-1zM799 69h1v1h-1zM801 69h2v1h-2zM806 69h1v1h-1zM815 69h1v1h-1zM820 69h1v1h-1zM829 69h1v1h-1zM839 69h1v1h-1zM842 69h1v1h-1zM846 69h2v1h-2zM855 69h2v1h-2zM880 69h1v1h-1zM888 69h1v1h-1zM891 69h1v1h-1zM894 69h2v1h-2zM898 69h1v1h-1zM912 69h1v1h-1zM172 68h1v1h-1zM439 68h1v1h-1zM575 68h1v1h-1zM648 68h3v1h-3zM711 68h1v1h-1zM806 68h1v1h-1zM897 68h1v1h-1zM574 67h1v1h-1zM580 67h2v1h-2zM583 67h1v1h-1zM586 67h2v1h-2zM589 67h1v1h-1zM591 67h2v1h-2zM595 67h7v1h-7zM604 67h6v1h-6zM611 67h1v1h-1zM613 67h1v1h-1zM617 67h1v1h-1zM619 67h1v1h-1zM621 67h1v1h-1zM623 67h3v1h-3zM627 67h1v1h-1zM629 67h1v1h-1zM646 67h3v1h-3zM639 66h1v1h-1zM505 65h1v1h-1zM639 65h1v1h-1zM645 65h1v1h-1zM640 64h1v1h-1zM645 64h1v1h-1zM640 63h5v1h-5z"/><path fill="#00e4ff" d="M354 69h1v1h-1zM434 69h1v1h-1zM492 69h1v1h-1zM534 69h1v1h-1zM574 69h1v1h-1zM584 69h1v1h-1zM588 69h1v1h-1zM642 69h1v1h-1zM646 69h1v1h-1zM648 69h1v1h-1zM674 69h1v1h-1zM897 69h1v1h-1zM576 68h4v1h-4zM583 68h2v1h-2zM588 68h1v1h-1zM592 68h2v1h-2zM602 68h2v1h-2zM608 68h1v1h-1zM613 68h1v1h-1zM623 68h1v1h-1zM628 68h1v1h-1zM645 68h3v1h-3zM590 67h1v1h-1zM612 67h1v1h-1zM614 67h3v1h-3zM618 67h1v1h-1zM620 67h1v1h-1zM622 67h1v1h-1zM626 67h1v1h-1zM630 67h9v1h-9zM640 67h1v1h-1zM642 67h4v1h-4zM505 66h1v1h-1zM644 66h2v1h-2zM504 65h1v1h-1zM640 65h1v1h-1zM643 65h2v1h-2zM641 64h4v1h-4z"/><path fill="#00ffff" d="M575 69h4v1h-4zM580 69h4v1h-4zM587 69h1v1h-1zM592 69h2v1h-2zM603 69h1v1h-1zM609 69h1v1h-1zM637 69h1v1h-1zM640 69h1v1h-1zM643 69h3v1h-3zM574 68h1v1h-1zM580 68h3v1h-3zM585 68h3v1h-3zM589 68h3v1h-3zM594 68h8v1h-8zM604 68h4v1h-4zM609 68h2v1h-2zM612 68h1v1h-1zM617 68h2v1h-2zM620 68h3v1h-3zM624 68h2v1h-2zM627 68h1v1h-1zM629 68h2v1h-2zM635 68h10v1h-10zM505 67h1v1h-1zM639 67h1v1h-1zM641 67h1v1h-1zM504 66h1v1h-1zM640 66h4v1h-4zM641 65h2v1h-2z"/><path fill="#00ffe1" d="M579 69h1v1h-1zM585 69h2v1h-2zM589 69h1v1h-1zM591 69h1v1h-1zM594 69h4v1h-4zM599 69h3v1h-3zM604 69h5v1h-5zM610 69h1v1h-1zM612 69h3v1h-3zM616 69h2v1h-2zM620 69h1v1h-1zM622 69h3v1h-3zM627 69h1v1h-1zM631 69h1v1h-1zM635 69h2v1h-2zM638 69h2v1h-2zM641 69h1v1h-1zM614 68h3v1h-3zM619 68h1v1h-1zM626 68h1v1h-1zM631 68h4v1h-4zM504 67h1v1h-1z"/><path fill="#00ffcf" d="M590 69h1v1h-1zM598 69h1v1h-1zM602 69h1v1h-1zM615 69h1v1h-1zM618 69h2v1h-2zM621 69h1v1h-1zM625 69h2v1h-2zM628 69h3v1h-3zM632 69h3v1h-3zM611 68h1v1h-1z"/><path fill="#00ffbe" d="M611 69h1v1h-1z"/><path fill="#00ff94" d="M505 68h1v1h-1z"/><path fill="#00ff6e" d="M504 69h2v1h-2zM504 68h1v1h-1z"/></g>
</g>
<line x1="177.5" y1="106.0" x2="177.5" y2="819" stroke="#000090" stroke-width="1" stroke-dasharray="1 5.58"/>
<line x1="259.5" y1="106.7" x2="259.5" y2="819" stroke="#000090" stroke-width="1" stroke-dasharray="1 5.58"/>
<line x1="340.5" y1="107.4" x2="340.5" y2="819" stroke="#000090" stroke-width="1" stroke-dasharray="1 5.58"/>
<line x1="422.5" y1="108.1" x2="422.5" y2="819" stroke="#000090" stroke-width="1" stroke-dasharray="1 5.58"/>
<line x1="504.5" y1="108.8" x2="504.5" y2="819" stroke="#000090" stroke-width="1" stroke-dasharray="1 5.58"/>
<line x1="586.5" y1="109.5" x2="586.5" y2="819" stroke="#000090" stroke-width="1" stroke-dasharray="1 5.58"/>
<line x1="668.5" y1="110.2" x2="668.5" y2="819" stroke="#000090" stroke-width="1" stroke-dasharray="1 5.58"/>
<line x1="749.5" y1="110.9" x2="749.5" y2="819" stroke="#000090" stroke-width="1" stroke-dasharray="1 5.58"/>
<line x1="831.5" y1="111.6" x2="831.5" y2="819" stroke="#000090" stroke-width="1" stroke-dasharray="1 5.58"/>
<line x1="371.5" y1="104" x2="371.5" y2="819" stroke="#000010" stroke-width="1" stroke-dasharray="15 7" stroke-dashoffset="0.7"/>
<line x1="637.5" y1="104" x2="637.5" y2="819" stroke="#000010" stroke-width="1" stroke-dasharray="15 7" stroke-dashoffset="0.7"/>
<line x1="95" y1="717.5" x2="913" y2="717.5" stroke="#000" stroke-width="1"/>
<line x1="95" y1="615.5" x2="913" y2="615.5" stroke="#000" stroke-width="1"/>
<line x1="95" y1="513.5" x2="913" y2="513.5" stroke="#000" stroke-width="1"/>
<line x1="95" y1="410.5" x2="913" y2="410.5" stroke="#000" stroke-width="1"/>
<line x1="95" y1="308.5" x2="913" y2="308.5" stroke="#000" stroke-width="1"/>
<line x1="95" y1="206.5" x2="913" y2="206.5" stroke="#000" stroke-width="1"/>
<rect x="95.5" y="104.5" width="818" height="715" fill="none" stroke="#000" stroke-width="1"/>
<line x1="85" y1="819.5" x2="95" y2="819.5" stroke="#000" stroke-width="1"/>
<line x1="913" y1="819.5" x2="924" y2="819.5" stroke="#000" stroke-width="1"/>
<line x1="85" y1="717.5" x2="95" y2="717.5" stroke="#000" stroke-width="1"/>
<line x1="913" y1="717.5" x2="924" y2="717.5" stroke="#000" stroke-width="1"/>
<line x1="85" y1="615.5" x2="95" y2="615.5" stroke="#000" stroke-width="1"/>
<line x1="913" y1="615.5" x2="924" y2="615.5" stroke="#000" stroke-width="1"/>
<line x1="85" y1="513.5" x2="95" y2="513.5" stroke="#000" stroke-width="1"/>
<line x1="913" y1="513.5" x2="924" y2="513.5" stroke="#000" stroke-width="1"/>
<line x1="85" y1="410.5" x2="95" y2="410.5" stroke="#000" stroke-width="1"/>
<line x1="913" y1="410.5" x2="924" y2="410.5" stroke="#000" stroke-width="1"/>
<line x1="85" y1="308.5" x2="95" y2="308.5" stroke="#000" stroke-width="1"/>
<line x1="913" y1="308.5" x2="924" y2="308.5" stroke="#000" stroke-width="1"/>
<line x1="85" y1="206.5" x2="95" y2="206.5" stroke="#000" stroke-width="1"/>
<line x1="913" y1="206.5" x2="924" y2="206.5" stroke="#000" stroke-width="1"/>
<line x1="85" y1="104.5" x2="95" y2="104.5" stroke="#000" stroke-width="1"/>
<line x1="913" y1="104.5" x2="924" y2="104.5" stroke="#000" stroke-width="1"/>
<g style="font-family:'DejaVu Sans','Liberation Sans',sans-serif;font-weight:200" fill="#000" stroke="#000" stroke-width="0.2">
<text x="79.5" y="825.0" font-size="15.5" text-anchor="end" stroke-width="0.35">0</text>
<text x="976.5" y="825.0" font-size="15.5" text-anchor="end" stroke-width="0.35" textLength="38.0" lengthAdjust="spacingAndGlyphs">−0.5</text>
<text x="79.5" y="723.0" font-size="15.5" text-anchor="end" stroke-width="0.35">10</text>
<text x="976.5" y="723.0" font-size="15.5" text-anchor="end" stroke-width="0.35">14.5</text>
<text x="79.5" y="621.0" font-size="15.5" text-anchor="end" stroke-width="0.35">20</text>
<text x="976.5" y="621.0" font-size="15.5" text-anchor="end" stroke-width="0.35">29.5</text>
<text x="79.5" y="519.0" font-size="15.5" text-anchor="end" stroke-width="0.35">30</text>
<text x="976.5" y="519.0" font-size="15.5" text-anchor="end" stroke-width="0.35">44.5</text>
<text x="79.5" y="416.0" font-size="15.5" text-anchor="end" stroke-width="0.35">40</text>
<text x="976.5" y="416.0" font-size="15.5" text-anchor="end" stroke-width="0.35">59.5</text>
<text x="79.5" y="314.0" font-size="15.5" text-anchor="end" stroke-width="0.35">50</text>
<text x="976.5" y="314.0" font-size="15.5" text-anchor="end" stroke-width="0.35">74.5</text>
<text x="79.5" y="212.0" font-size="15.5" text-anchor="end" stroke-width="0.35">60</text>
<text x="976.5" y="212.0" font-size="15.5" text-anchor="end" stroke-width="0.35">89.5</text>
<text x="79.5" y="110.0" font-size="15.5" text-anchor="end" stroke-width="0.35">70</text>
<text x="976.5" y="110.0" font-size="15.5" text-anchor="end" stroke-width="0.35">104.5</text>
<text x="66.7" y="91.5" font-size="17" text-anchor="middle" stroke-width="0.35" textLength="37.0" lengthAdjust="spacingAndGlyphs">[RC]</text>
<text x="955.5" y="91.5" font-size="17" text-anchor="middle" stroke-width="0.35" textLength="40.0" lengthAdjust="spacingAndGlyphs">[km]</text>
<line x1="95.5" y1="819" x2="95.5" y2="841" stroke="#000" stroke-width="1"/>
<text x="95.0" y="857.8" font-size="14" text-anchor="middle" stroke-width="0.35" textLength="42.0" lengthAdjust="spacingAndGlyphs">−1.15</text>
<line x1="136.5" y1="819" x2="136.5" y2="831" stroke="#000" stroke-width="1"/>
<text x="136.0" y="857.8" font-size="14" text-anchor="middle" stroke-width="0.35" textLength="42.0" lengthAdjust="spacingAndGlyphs">−1.04</text>
<line x1="177.5" y1="819" x2="177.5" y2="841" stroke="#000" stroke-width="1"/>
<text x="177.0" y="857.8" font-size="14" text-anchor="middle" stroke-width="0.35" textLength="42.0" lengthAdjust="spacingAndGlyphs">−0.92</text>
<line x1="218.5" y1="819" x2="218.5" y2="831" stroke="#000" stroke-width="1"/>
<text x="218.0" y="857.8" font-size="14" text-anchor="middle" stroke-width="0.35" textLength="42.0" lengthAdjust="spacingAndGlyphs">−0.81</text>
<line x1="259.5" y1="819" x2="259.5" y2="841" stroke="#000" stroke-width="1"/>
<text x="259.0" y="857.8" font-size="14" text-anchor="middle" stroke-width="0.35" textLength="42.0" lengthAdjust="spacingAndGlyphs">−0.69</text>
<line x1="300.5" y1="819" x2="300.5" y2="831" stroke="#000" stroke-width="1"/>
<text x="300.0" y="857.8" font-size="14" text-anchor="middle" stroke-width="0.35" textLength="42.0" lengthAdjust="spacingAndGlyphs">−0.58</text>
<line x1="340.5" y1="819" x2="340.5" y2="841" stroke="#000" stroke-width="1"/>
<text x="340.0" y="857.8" font-size="14" text-anchor="middle" stroke-width="0.35" textLength="42.0" lengthAdjust="spacingAndGlyphs">−0.46</text>
<line x1="381.5" y1="819" x2="381.5" y2="831" stroke="#000" stroke-width="1"/>
<text x="381.0" y="857.8" font-size="14" text-anchor="middle" stroke-width="0.35" textLength="42.0" lengthAdjust="spacingAndGlyphs">−0.35</text>
<line x1="422.5" y1="819" x2="422.5" y2="841" stroke="#000" stroke-width="1"/>
<text x="422.0" y="857.8" font-size="14" text-anchor="middle" stroke-width="0.35" textLength="42.0" lengthAdjust="spacingAndGlyphs">−0.23</text>
<line x1="463.5" y1="819" x2="463.5" y2="831" stroke="#000" stroke-width="1"/>
<text x="463.0" y="857.8" font-size="14" text-anchor="middle" stroke-width="0.35" textLength="42.0" lengthAdjust="spacingAndGlyphs">−0.12</text>
<line x1="504.5" y1="819" x2="504.5" y2="841" stroke="#000" stroke-width="1"/>
<text x="507.5" y="857.8" font-size="14" text-anchor="middle" stroke-width="0.35" textLength="34.0" lengthAdjust="spacingAndGlyphs">0.00</text>
<line x1="545.5" y1="819" x2="545.5" y2="831" stroke="#000" stroke-width="1"/>
<text x="548.5" y="857.8" font-size="14" text-anchor="middle" stroke-width="0.35" textLength="34.0" lengthAdjust="spacingAndGlyphs">0.12</text>
<line x1="586.5" y1="819" x2="586.5" y2="841" stroke="#000" stroke-width="1"/>
<text x="589.5" y="857.8" font-size="14" text-anchor="middle" stroke-width="0.35" textLength="34.0" lengthAdjust="spacingAndGlyphs">0.23</text>
<line x1="627.5" y1="819" x2="627.5" y2="831" stroke="#000" stroke-width="1"/>
<text x="630.5" y="857.8" font-size="14" text-anchor="middle" stroke-width="0.35" textLength="34.0" lengthAdjust="spacingAndGlyphs">0.35</text>
<line x1="668.5" y1="819" x2="668.5" y2="841" stroke="#000" stroke-width="1"/>
<text x="671.5" y="857.8" font-size="14" text-anchor="middle" stroke-width="0.35" textLength="34.0" lengthAdjust="spacingAndGlyphs">0.46</text>
<line x1="708.5" y1="819" x2="708.5" y2="831" stroke="#000" stroke-width="1"/>
<text x="711.5" y="857.8" font-size="14" text-anchor="middle" stroke-width="0.35" textLength="34.0" lengthAdjust="spacingAndGlyphs">0.58</text>
<line x1="749.5" y1="819" x2="749.5" y2="841" stroke="#000" stroke-width="1"/>
<text x="752.5" y="857.8" font-size="14" text-anchor="middle" stroke-width="0.35" textLength="34.0" lengthAdjust="spacingAndGlyphs">0.69</text>
<line x1="790.5" y1="819" x2="790.5" y2="831" stroke="#000" stroke-width="1"/>
<text x="793.5" y="857.8" font-size="14" text-anchor="middle" stroke-width="0.35" textLength="34.0" lengthAdjust="spacingAndGlyphs">0.81</text>
<line x1="831.5" y1="819" x2="831.5" y2="841" stroke="#000" stroke-width="1"/>
<text x="834.5" y="857.8" font-size="14" text-anchor="middle" stroke-width="0.35" textLength="34.0" lengthAdjust="spacingAndGlyphs">0.92</text>
<line x1="872.5" y1="819" x2="872.5" y2="831" stroke="#000" stroke-width="1"/>
<text x="875.5" y="857.8" font-size="14" text-anchor="middle" stroke-width="0.35" textLength="34.0" lengthAdjust="spacingAndGlyphs">1.04</text>
<line x1="913.5" y1="819" x2="913.5" y2="841" stroke="#000" stroke-width="1"/>
<text x="916.5" y="857.8" font-size="14" text-anchor="middle" stroke-width="0.35" textLength="34.0" lengthAdjust="spacingAndGlyphs">1.15</text>
<text x="961.6" y="858.2" font-size="16.5" text-anchor="middle" stroke-width="0.35" textLength="33.5" lengthAdjust="spacingAndGlyphs">[Hz]</text>
<line x1="307.5" y1="88" x2="307.5" y2="102" stroke="#000" stroke-width="1"/>
<line x1="314.5" y1="93" x2="314.5" y2="102" stroke="#000" stroke-width="1"/>
<line x1="320.5" y1="93" x2="320.5" y2="102" stroke="#000" stroke-width="1"/>
<line x1="327.5" y1="93" x2="327.5" y2="102" stroke="#000" stroke-width="1"/>
<line x1="333.5" y1="93" x2="333.5" y2="102" stroke="#000" stroke-width="1"/>
<line x1="339.5" y1="88" x2="339.5" y2="102" stroke="#000" stroke-width="1"/>
<line x1="346.5" y1="93" x2="346.5" y2="102" stroke="#000" stroke-width="1"/>
<line x1="352.5" y1="93" x2="352.5" y2="102" stroke="#000" stroke-width="1"/>
<line x1="359.5" y1="93" x2="359.5" y2="102" stroke="#000" stroke-width="1"/>
<line x1="365.5" y1="93" x2="365.5" y2="102" stroke="#000" stroke-width="1"/>
<line x1="371.5" y1="88" x2="371.5" y2="102" stroke="#000" stroke-width="1"/>
<line x1="378.5" y1="93" x2="378.5" y2="102" stroke="#000" stroke-width="1"/>
<line x1="384.5" y1="93" x2="384.5" y2="102" stroke="#000" stroke-width="1"/>
<line x1="390.5" y1="93" x2="390.5" y2="102" stroke="#000" stroke-width="1"/>
<line x1="397.5" y1="93" x2="397.5" y2="102" stroke="#000" stroke-width="1"/>
<line x1="403.5" y1="88" x2="403.5" y2="102" stroke="#000" stroke-width="1"/>
<line x1="410.5" y1="93" x2="410.5" y2="102" stroke="#000" stroke-width="1"/>
<line x1="416.5" y1="93" x2="416.5" y2="102" stroke="#000" stroke-width="1"/>
<line x1="422.5" y1="93" x2="422.5" y2="102" stroke="#000" stroke-width="1"/>
<line x1="429.5" y1="93" x2="429.5" y2="102" stroke="#000" stroke-width="1"/>
<line x1="435.5" y1="88" x2="435.5" y2="102" stroke="#000" stroke-width="1"/>
<text x="307.5" y="86.0" font-size="16.5" text-anchor="middle" stroke-width="0.35" textLength="23.0" lengthAdjust="spacingAndGlyphs">−2</text>
<text x="339.5" y="86.0" font-size="16.5" text-anchor="middle" stroke-width="0.35" textLength="23.0" lengthAdjust="spacingAndGlyphs">−1</text>
<text x="372.0" y="86.0" font-size="16.5" text-anchor="middle" stroke-width="0.35">0</text>
<text x="404.0" y="86.0" font-size="16.5" text-anchor="middle" stroke-width="0.35">1</text>
<text x="436.0" y="86.0" font-size="16.5" text-anchor="middle" stroke-width="0.35">2</text>
<line x1="573.5" y1="88" x2="573.5" y2="102" stroke="#000" stroke-width="1"/>
<line x1="580.5" y1="93" x2="580.5" y2="102" stroke="#000" stroke-width="1"/>
<line x1="586.5" y1="93" x2="586.5" y2="102" stroke="#000" stroke-width="1"/>
<line x1="592.5" y1="93" x2="592.5" y2="102" stroke="#000" stroke-width="1"/>
<line x1="599.5" y1="93" x2="599.5" y2="102" stroke="#000" stroke-width="1"/>
<line x1="605.5" y1="88" x2="605.5" y2="102" stroke="#000" stroke-width="1"/>
<line x1="612.5" y1="93" x2="612.5" y2="102" stroke="#000" stroke-width="1"/>
<line x1="618.5" y1="93" x2="618.5" y2="102" stroke="#000" stroke-width="1"/>
<line x1="624.5" y1="93" x2="624.5" y2="102" stroke="#000" stroke-width="1"/>
<line x1="631.5" y1="93" x2="631.5" y2="102" stroke="#000" stroke-width="1"/>
<line x1="637.5" y1="88" x2="637.5" y2="102" stroke="#000" stroke-width="1"/>
<line x1="644.5" y1="93" x2="644.5" y2="102" stroke="#000" stroke-width="1"/>
<line x1="650.5" y1="93" x2="650.5" y2="102" stroke="#000" stroke-width="1"/>
<line x1="656.5" y1="93" x2="656.5" y2="102" stroke="#000" stroke-width="1"/>
<line x1="663.5" y1="93" x2="663.5" y2="102" stroke="#000" stroke-width="1"/>
<line x1="669.5" y1="88" x2="669.5" y2="102" stroke="#000" stroke-width="1"/>
<line x1="676.5" y1="93" x2="676.5" y2="102" stroke="#000" stroke-width="1"/>
<line x1="682.5" y1="93" x2="682.5" y2="102" stroke="#000" stroke-width="1"/>
<line x1="688.5" y1="93" x2="688.5" y2="102" stroke="#000" stroke-width="1"/>
<line x1="695.5" y1="93" x2="695.5" y2="102" stroke="#000" stroke-width="1"/>
<line x1="701.5" y1="88" x2="701.5" y2="102" stroke="#000" stroke-width="1"/>
<text x="573.5" y="86.0" font-size="16.5" text-anchor="middle" stroke-width="0.35" textLength="23.0" lengthAdjust="spacingAndGlyphs">−2</text>
<text x="605.5" y="86.0" font-size="16.5" text-anchor="middle" stroke-width="0.35" textLength="23.0" lengthAdjust="spacingAndGlyphs">−1</text>
<text x="638.0" y="86.0" font-size="16.5" text-anchor="middle" stroke-width="0.35">0</text>
<text x="670.0" y="86.0" font-size="16.5" text-anchor="middle" stroke-width="0.35">1</text>
<text x="702.0" y="86.0" font-size="16.5" text-anchor="middle" stroke-width="0.35">2</text>
<text x="505.2" y="86.5" font-size="18" text-anchor="middle" stroke-width="0.35" textLength="52.5" lengthAdjust="spacingAndGlyphs">[m/s]</text>
<text x="197.5" y="57.8" font-size="24.5" text-anchor="start" textLength="374.0" lengthAdjust="spacingAndGlyphs">02−DEC−2025 09:30:05 UTC</text>
<text x="594.5" y="57.8" font-size="24.5" text-anchor="start" textLength="85.5" lengthAdjust="spacingAndGlyphs">V_Key</text>
</g>
<rect x="95" y="891" width="26" height="31" fill="#0026ff"/>
<rect x="121" y="891" width="25" height="31" fill="#0046ff"/>
<rect x="146" y="891" width="26" height="31" fill="#005aff"/>
<rect x="172" y="891" width="25" height="31" fill="#0070ff"/>
<rect x="197" y="891" width="26" height="31" fill="#008aff"/>
<rect x="223" y="891" width="25" height="31" fill="#00a0ff"/>
<rect x="248" y="891" width="26" height="31" fill="#00b6ff"/>
<rect x="274" y="891" width="26" height="31" fill="#00ccff"/>
<rect x="300" y="891" width="25" height="31" fill="#00e4ff"/>
<rect x="325" y="891" width="26" height="31" fill="#00ffff"/>
<rect x="351" y="891" width="25" height="31" fill="#00ffe1"/>
<rect x="376" y="891" width="26" height="31" fill="#00ffcf"/>
<rect x="402" y="891" width="25" height="31" fill="#00ffbe"/>
<rect x="427" y="891" width="26" height="31" fill="#00ffac"/>
<rect x="453" y="891" width="26" height="31" fill="#00ff94"/>
<rect x="479" y="891" width="25" height="31" fill="#00ff6e"/>
<rect x="504" y="891" width="26" height="31" fill="#00ff28"/>
<rect x="530" y="891" width="25" height="31" fill="#82ff00"/>
<rect x="555" y="891" width="26" height="31" fill="#96ff00"/>
<rect x="581" y="891" width="25" height="31" fill="#b6ff00"/>
<rect x="606" y="891" width="26" height="31" fill="#caff00"/>
<rect x="632" y="891" width="26" height="31" fill="#e2ff00"/>
<rect x="658" y="891" width="25" height="31" fill="#ffff00"/>
<rect x="683" y="891" width="26" height="31" fill="#ffe400"/>
<rect x="709" y="891" width="25" height="31" fill="#ffd200"/>
<rect x="734" y="891" width="26" height="31" fill="#ffbe00"/>
<rect x="760" y="891" width="25" height="31" fill="#ffa800"/>
<rect x="785" y="891" width="26" height="31" fill="#ff9100"/>
<rect x="811" y="891" width="26" height="31" fill="#ff7a00"/>
<rect x="837" y="891" width="25" height="31" fill="#ff5f00"/>
<rect x="862" y="891" width="26" height="31" fill="#ff4800"/>
<rect x="888" y="891" width="25" height="31" fill="#ff2d00"/>
<rect x="95.5" y="891.5" width="818" height="31" fill="none" stroke="#000" stroke-width="1"/>
<g style="font-family:'DejaVu Sans','Liberation Sans',sans-serif;font-weight:200" fill="#000" stroke="#000" stroke-width="0.2">
<line x1="121.5" y1="891" x2="121.5" y2="928" stroke="#000" stroke-width="1"/>
<text x="121.5" y="939.5" font-size="14.5" text-anchor="middle" stroke-width="0.35" textLength="58.5" lengthAdjust="spacingAndGlyphs">−155.0</text>
<line x1="197.5" y1="891" x2="197.5" y2="928" stroke="#000" stroke-width="1"/>
<text x="197.5" y="939.5" font-size="14.5" text-anchor="middle" stroke-width="0.35" textLength="58.5" lengthAdjust="spacingAndGlyphs">−140.0</text>
<line x1="274.5" y1="891" x2="274.5" y2="928" stroke="#000" stroke-width="1"/>
<text x="274.5" y="939.5" font-size="14.5" text-anchor="middle" stroke-width="0.35" textLength="58.5" lengthAdjust="spacingAndGlyphs">−125.0</text>
<line x1="351.5" y1="891" x2="351.5" y2="928" stroke="#000" stroke-width="1"/>
<text x="351.5" y="939.5" font-size="14.5" text-anchor="middle" stroke-width="0.35" textLength="58.5" lengthAdjust="spacingAndGlyphs">−110.0</text>
<line x1="427.5" y1="891" x2="427.5" y2="928" stroke="#000" stroke-width="1"/>
<text x="431.0" y="939.5" font-size="14.5" text-anchor="middle" stroke-width="0.35" textLength="48.0" lengthAdjust="spacingAndGlyphs">−95.0</text>
<line x1="504.5" y1="891" x2="504.5" y2="928" stroke="#000" stroke-width="1"/>
<text x="508.0" y="939.5" font-size="14.5" text-anchor="middle" stroke-width="0.35" textLength="48.0" lengthAdjust="spacingAndGlyphs">−80.0</text>
<line x1="581.5" y1="891" x2="581.5" y2="928" stroke="#000" stroke-width="1"/>
<text x="585.0" y="939.5" font-size="14.5" text-anchor="middle" stroke-width="0.35" textLength="48.0" lengthAdjust="spacingAndGlyphs">−65.0</text>
<line x1="658.5" y1="891" x2="658.5" y2="928" stroke="#000" stroke-width="1"/>
<text x="662.0" y="939.5" font-size="14.5" text-anchor="middle" stroke-width="0.35" textLength="48.0" lengthAdjust="spacingAndGlyphs">−50.0</text>
<line x1="734.5" y1="891" x2="734.5" y2="928" stroke="#000" stroke-width="1"/>
<text x="738.0" y="939.5" font-size="14.5" text-anchor="middle" stroke-width="0.35" textLength="48.0" lengthAdjust="spacingAndGlyphs">−35.0</text>
<line x1="811.5" y1="891" x2="811.5" y2="928" stroke="#000" stroke-width="1"/>
<text x="815.0" y="939.5" font-size="14.5" text-anchor="middle" stroke-width="0.35" textLength="48.0" lengthAdjust="spacingAndGlyphs">−20.0</text>
<line x1="888.5" y1="891" x2="888.5" y2="928" stroke="#000" stroke-width="1"/>
<text x="893.3" y="939.5" font-size="14.5" text-anchor="middle" stroke-width="0.35" textLength="38.5" lengthAdjust="spacingAndGlyphs">−5.0</text>
<text x="949.0" y="896.8" font-size="14" text-anchor="middle" stroke-width="0.35" textLength="41.0" lengthAdjust="spacingAndGlyphs">Fixed</text>
<text x="949.7" y="917.5" font-size="14" text-anchor="middle" stroke-width="0.35" textLength="42.5" lengthAdjust="spacingAndGlyphs">Scale</text>
<text x="949.7" y="940.3" font-size="16" text-anchor="middle" stroke-width="0.35" textLength="32.0" lengthAdjust="spacingAndGlyphs">[dB]</text>
<text x="147.0" y="977.8" font-size="23.5" text-anchor="start" textLength="333.0" lengthAdjust="spacingAndGlyphs">Resolution = 0.001127 Hz</text>
<text x="506.0" y="977.8" font-size="23.5" text-anchor="start" textLength="135.0" lengthAdjust="spacingAndGlyphs" xml:space="preserve">Antenna  1</text>
<text x="669.0" y="977.8" font-size="23.5" text-anchor="start" textLength="151.0" lengthAdjust="spacingAndGlyphs">13.496 MHz</text>
<text x="478.0" y="1011.8" font-size="21" text-anchor="start" textLength="519.0" lengthAdjust="spacingAndGlyphs">/home/wera/data/virginia/20253360930_vir.SORT</text>
</g></svg></body></html>
